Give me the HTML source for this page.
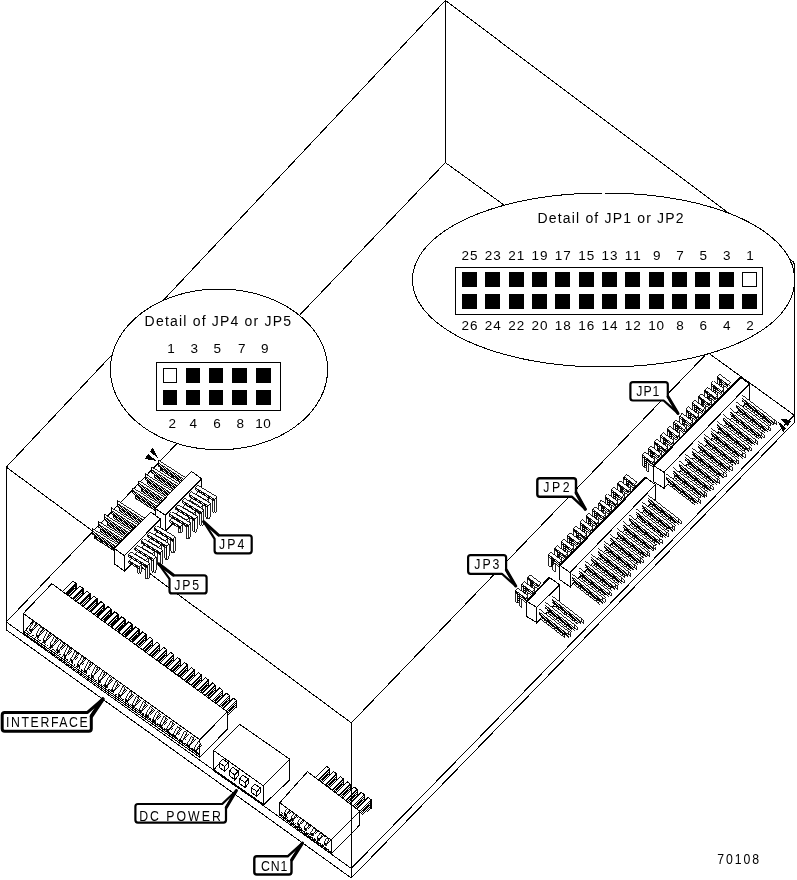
<!DOCTYPE html>
<html><head><meta charset="utf-8"><title>70108</title>
<style>
html,body{margin:0;padding:0;background:#fff;}
body{width:797px;height:880px;overflow:hidden;}
svg{display:block;will-change:transform;}
text{font-family:"Liberation Sans",sans-serif;fill:#000;}
</style></head><body>
<svg width="797" height="880" viewBox="0 0 797 880" shape-rendering="crispEdges">
<defs>
<pattern id="d" patternUnits="userSpaceOnUse" width="2" height="2"><rect x="0" y="0" width="1" height="1" fill="#000"/><rect x="1" y="1" width="1" height="1" fill="#000"/></pattern>
<pattern id="d4" patternUnits="userSpaceOnUse" width="2" height="2"><rect x="0" y="0" width="1" height="1" fill="#000"/></pattern>
</defs>
<rect width="797" height="880" fill="#fff"/>
<line x1="445.4" y1="0.5" x2="6.3" y2="467.1" stroke="#000" stroke-width="1" />
<line x1="445.4" y1="0.5" x2="794.3" y2="262.5" stroke="#000" stroke-width="1" />
<line x1="6.3" y1="467.1" x2="351.3" y2="722.9" stroke="#000" stroke-width="1" />
<line x1="794.3" y1="262.5" x2="351.3" y2="722.9" stroke="#000" stroke-width="1" />
<line x1="445.4" y1="0.5" x2="445.4" y2="162.6" stroke="#000" stroke-width="1" />
<line x1="6.3" y1="467.1" x2="6.3" y2="629.8" stroke="#000" stroke-width="1" />
<line x1="351.3" y1="722.9" x2="351.3" y2="878" stroke="#000" stroke-width="1" />
<line x1="794.3" y1="262.5" x2="794.3" y2="422.5" stroke="#000" stroke-width="1" />
<line x1="445.4" y1="162.6" x2="6.3" y2="622" stroke="#000" stroke-width="1" />
<line x1="445.4" y1="162.6" x2="794.3" y2="415.2" stroke="#000" stroke-width="1" />
<line x1="6.3" y1="622" x2="351.3" y2="868.4" stroke="#000" stroke-width="1" />
<line x1="794.3" y1="415.2" x2="351.3" y2="868.4" stroke="#000" stroke-width="1" />
<line x1="6.3" y1="629.8" x2="351.3" y2="878" stroke="#000" stroke-width="1" />
<line x1="794.3" y1="422.5" x2="351.3" y2="878" stroke="#000" stroke-width="1" />
<polygon points="721.46,383.82 723.86,385.62 723.86,393.62 722.66,393.32 721.46,391.82" fill="#fff" stroke="#000" stroke-width="0.85" />
<polygon points="727.96,388.7 721.46,383.82 723.86,381.32 730.36,386.2" fill="#fff" stroke="#000" stroke-width="0.85" />
<polygon points="717.46,376.82 719.86,378.62 719.86,389.12 718.66,388.82 717.46,387.32" fill="#fff" stroke="#000" stroke-width="0.85" />
<polygon points="719.86,378.62 721.86,377.02 721.86,387.32 719.86,389.12" fill="url(#d)" stroke="#000" stroke-width="0.85" />
<polygon points="727.96,384.7 717.46,376.82 717.46,378.82 727.96,386.7" fill="url(#d)" stroke="#000" stroke-width="0.85" />
<polygon points="727.96,384.7 717.46,376.82 719.86,374.32 730.36,382.2" fill="#fff" stroke="#000" stroke-width="0.85" />
<polygon points="715.18,390.32 717.58,392.12 717.58,400.12 716.38,399.82 715.18,398.32" fill="#fff" stroke="#000" stroke-width="0.85" />
<polygon points="721.68,395.2 715.18,390.32 717.58,387.82 724.08,392.7" fill="#fff" stroke="#000" stroke-width="0.85" />
<polygon points="711.18,383.32 713.58,385.12 713.58,395.62 712.38,395.32 711.18,393.82" fill="#fff" stroke="#000" stroke-width="0.85" />
<polygon points="713.58,385.12 715.58,383.52 715.58,393.82 713.58,395.62" fill="url(#d)" stroke="#000" stroke-width="0.85" />
<polygon points="721.68,391.2 711.18,383.32 711.18,385.32 721.68,393.2" fill="url(#d)" stroke="#000" stroke-width="0.85" />
<polygon points="721.68,391.2 711.18,383.32 713.58,380.82 724.08,388.7" fill="#fff" stroke="#000" stroke-width="0.85" />
<polygon points="708.9,396.82 711.3,398.62 711.3,406.62 710.1,406.32 708.9,404.82" fill="#fff" stroke="#000" stroke-width="0.85" />
<polygon points="715.4,401.7 708.9,396.82 711.3,394.32 717.8,399.2" fill="#fff" stroke="#000" stroke-width="0.85" />
<polygon points="704.9,389.82 707.3,391.62 707.3,402.12 706.1,401.82 704.9,400.32" fill="#fff" stroke="#000" stroke-width="0.85" />
<polygon points="707.3,391.62 709.3,390.02 709.3,400.32 707.3,402.12" fill="url(#d)" stroke="#000" stroke-width="0.85" />
<polygon points="715.4,397.7 704.9,389.82 704.9,391.82 715.4,399.7" fill="url(#d)" stroke="#000" stroke-width="0.85" />
<polygon points="715.4,397.7 704.9,389.82 707.3,387.32 717.8,395.2" fill="#fff" stroke="#000" stroke-width="0.85" />
<polygon points="702.62,403.32 705.02,405.12 705.02,413.12 703.82,412.82 702.62,411.32" fill="#fff" stroke="#000" stroke-width="0.85" />
<polygon points="709.12,408.2 702.62,403.32 705.02,400.82 711.52,405.7" fill="#fff" stroke="#000" stroke-width="0.85" />
<polygon points="698.62,396.32 701.02,398.12 701.02,408.62 699.82,408.32 698.62,406.82" fill="#fff" stroke="#000" stroke-width="0.85" />
<polygon points="701.02,398.12 703.02,396.52 703.02,406.82 701.02,408.62" fill="url(#d)" stroke="#000" stroke-width="0.85" />
<polygon points="709.12,404.2 698.62,396.32 698.62,398.32 709.12,406.2" fill="url(#d)" stroke="#000" stroke-width="0.85" />
<polygon points="709.12,404.2 698.62,396.32 701.02,393.82 711.52,401.7" fill="#fff" stroke="#000" stroke-width="0.85" />
<polygon points="696.34,409.82 698.74,411.62 698.74,419.62 697.54,419.32 696.34,417.82" fill="#fff" stroke="#000" stroke-width="0.85" />
<polygon points="702.84,414.7 696.34,409.82 698.74,407.32 705.24,412.2" fill="#fff" stroke="#000" stroke-width="0.85" />
<polygon points="692.34,402.82 694.74,404.62 694.74,415.12 693.54,414.82 692.34,413.32" fill="#fff" stroke="#000" stroke-width="0.85" />
<polygon points="694.74,404.62 696.74,403.02 696.74,413.32 694.74,415.12" fill="url(#d)" stroke="#000" stroke-width="0.85" />
<polygon points="702.84,410.7 692.34,402.82 692.34,404.82 702.84,412.7" fill="url(#d)" stroke="#000" stroke-width="0.85" />
<polygon points="702.84,410.7 692.34,402.82 694.74,400.32 705.24,408.2" fill="#fff" stroke="#000" stroke-width="0.85" />
<polygon points="690.06,416.32 692.46,418.12 692.46,426.12 691.26,425.82 690.06,424.32" fill="#fff" stroke="#000" stroke-width="0.85" />
<polygon points="696.56,421.2 690.06,416.32 692.46,413.82 698.96,418.7" fill="#fff" stroke="#000" stroke-width="0.85" />
<polygon points="686.06,409.32 688.46,411.12 688.46,421.62 687.26,421.32 686.06,419.82" fill="#fff" stroke="#000" stroke-width="0.85" />
<polygon points="688.46,411.12 690.46,409.52 690.46,419.82 688.46,421.62" fill="url(#d)" stroke="#000" stroke-width="0.85" />
<polygon points="696.56,417.2 686.06,409.32 686.06,411.32 696.56,419.2" fill="url(#d)" stroke="#000" stroke-width="0.85" />
<polygon points="696.56,417.2 686.06,409.32 688.46,406.82 698.96,414.7" fill="#fff" stroke="#000" stroke-width="0.85" />
<polygon points="683.78,422.82 686.18,424.62 686.18,432.62 684.98,432.32 683.78,430.82" fill="#fff" stroke="#000" stroke-width="0.85" />
<polygon points="690.28,427.7 683.78,422.82 686.18,420.32 692.68,425.2" fill="#fff" stroke="#000" stroke-width="0.85" />
<polygon points="679.78,415.82 682.18,417.62 682.18,428.12 680.98,427.82 679.78,426.32" fill="#fff" stroke="#000" stroke-width="0.85" />
<polygon points="682.18,417.62 684.18,416.02 684.18,426.32 682.18,428.12" fill="url(#d)" stroke="#000" stroke-width="0.85" />
<polygon points="690.28,423.7 679.78,415.82 679.78,417.82 690.28,425.7" fill="url(#d)" stroke="#000" stroke-width="0.85" />
<polygon points="690.28,423.7 679.78,415.82 682.18,413.32 692.68,421.2" fill="#fff" stroke="#000" stroke-width="0.85" />
<polygon points="677.5,429.32 679.9,431.12 679.9,439.12 678.7,438.82 677.5,437.32" fill="#fff" stroke="#000" stroke-width="0.85" />
<polygon points="684,434.2 677.5,429.32 679.9,426.82 686.4,431.7" fill="#fff" stroke="#000" stroke-width="0.85" />
<polygon points="673.5,422.32 675.9,424.12 675.9,434.62 674.7,434.32 673.5,432.82" fill="#fff" stroke="#000" stroke-width="0.85" />
<polygon points="675.9,424.12 677.9,422.52 677.9,432.82 675.9,434.62" fill="url(#d)" stroke="#000" stroke-width="0.85" />
<polygon points="684,430.2 673.5,422.32 673.5,424.32 684,432.2" fill="url(#d)" stroke="#000" stroke-width="0.85" />
<polygon points="684,430.2 673.5,422.32 675.9,419.82 686.4,427.7" fill="#fff" stroke="#000" stroke-width="0.85" />
<polygon points="671.22,435.82 673.62,437.62 673.62,445.62 672.42,445.32 671.22,443.82" fill="#fff" stroke="#000" stroke-width="0.85" />
<polygon points="677.72,440.7 671.22,435.82 673.62,433.32 680.12,438.2" fill="#fff" stroke="#000" stroke-width="0.85" />
<polygon points="667.22,428.82 669.62,430.62 669.62,441.12 668.42,440.82 667.22,439.32" fill="#fff" stroke="#000" stroke-width="0.85" />
<polygon points="669.62,430.62 671.62,429.02 671.62,439.32 669.62,441.12" fill="url(#d)" stroke="#000" stroke-width="0.85" />
<polygon points="677.72,436.7 667.22,428.82 667.22,430.82 677.72,438.7" fill="url(#d)" stroke="#000" stroke-width="0.85" />
<polygon points="677.72,436.7 667.22,428.82 669.62,426.32 680.12,434.2" fill="#fff" stroke="#000" stroke-width="0.85" />
<polygon points="664.94,442.32 667.34,444.12 667.34,452.12 666.14,451.82 664.94,450.32" fill="#fff" stroke="#000" stroke-width="0.85" />
<polygon points="671.44,447.2 664.94,442.32 667.34,439.82 673.84,444.7" fill="#fff" stroke="#000" stroke-width="0.85" />
<polygon points="660.94,435.32 663.34,437.12 663.34,447.62 662.14,447.32 660.94,445.82" fill="#fff" stroke="#000" stroke-width="0.85" />
<polygon points="663.34,437.12 665.34,435.52 665.34,445.82 663.34,447.62" fill="url(#d)" stroke="#000" stroke-width="0.85" />
<polygon points="671.44,443.2 660.94,435.32 660.94,437.32 671.44,445.2" fill="url(#d)" stroke="#000" stroke-width="0.85" />
<polygon points="671.44,443.2 660.94,435.32 663.34,432.82 673.84,440.7" fill="#fff" stroke="#000" stroke-width="0.85" />
<polygon points="658.66,448.82 661.06,450.62 661.06,458.62 659.86,458.32 658.66,456.82" fill="#fff" stroke="#000" stroke-width="0.85" />
<polygon points="665.16,453.7 658.66,448.82 661.06,446.32 667.56,451.2" fill="#fff" stroke="#000" stroke-width="0.85" />
<polygon points="654.66,441.82 657.06,443.62 657.06,454.12 655.86,453.82 654.66,452.32" fill="#fff" stroke="#000" stroke-width="0.85" />
<polygon points="657.06,443.62 659.06,442.02 659.06,452.32 657.06,454.12" fill="url(#d)" stroke="#000" stroke-width="0.85" />
<polygon points="665.16,449.7 654.66,441.82 654.66,443.82 665.16,451.7" fill="url(#d)" stroke="#000" stroke-width="0.85" />
<polygon points="665.16,449.7 654.66,441.82 657.06,439.32 667.56,447.2" fill="#fff" stroke="#000" stroke-width="0.85" />
<polygon points="652.38,455.32 654.78,457.12 654.78,465.12 653.58,464.82 652.38,463.32" fill="#fff" stroke="#000" stroke-width="0.85" />
<polygon points="658.88,460.2 652.38,455.32 654.78,452.82 661.28,457.7" fill="#fff" stroke="#000" stroke-width="0.85" />
<polygon points="648.38,448.32 650.78,450.12 650.78,460.62 649.58,460.32 648.38,458.82" fill="#fff" stroke="#000" stroke-width="0.85" />
<polygon points="650.78,450.12 652.78,448.52 652.78,458.82 650.78,460.62" fill="url(#d)" stroke="#000" stroke-width="0.85" />
<polygon points="658.88,456.2 648.38,448.32 648.38,450.32 658.88,458.2" fill="url(#d)" stroke="#000" stroke-width="0.85" />
<polygon points="658.88,456.2 648.38,448.32 650.78,445.82 661.28,453.7" fill="#fff" stroke="#000" stroke-width="0.85" />
<polygon points="646.1,461.82 648.5,463.62 648.5,471.62 647.3,471.32 646.1,469.82" fill="#fff" stroke="#000" stroke-width="0.85" />
<polygon points="652.6,466.7 646.1,461.82 648.5,459.32 655,464.2" fill="#fff" stroke="#000" stroke-width="0.85" />
<polygon points="642.1,454.82 644.5,456.62 644.5,467.12 643.3,466.82 642.1,465.32" fill="#fff" stroke="#000" stroke-width="0.85" />
<polygon points="644.5,456.62 646.5,455.02 646.5,465.32 644.5,467.12" fill="url(#d)" stroke="#000" stroke-width="0.85" />
<polygon points="652.6,462.7 642.1,454.82 642.1,456.82 652.6,464.7" fill="url(#d)" stroke="#000" stroke-width="0.85" />
<polygon points="652.6,462.7 642.1,454.82 644.5,452.32 655,460.2" fill="#fff" stroke="#000" stroke-width="0.85" />
<polygon points="653.4,465.5 664,472.3 664,488.3 653.4,481.5" fill="#fff" stroke="#000" stroke-width="1" />
<polygon points="664,472.3 749.3,384 749.3,400 664,488.3" fill="#fff" stroke="#000" stroke-width="1" />
<polygon points="740.5,377.1 749.3,384 664,472.3 653.4,465.5" fill="#fff" stroke="#000" stroke-width="1" />
<line x1="653.4" y1="465.5" x2="740.5" y2="377.1" stroke="#000" stroke-width="2" />
<polygon points="742.4,395.2 774.4,419.84 774.4,425.64 742.4,401" fill="#fff" stroke="none" stroke-width="1" />
<polygon points="742.4,398.4 774.4,423.04 774.4,425.64 742.4,401" fill="url(#d)" stroke="none" stroke-width="1" />
<line x1="742.4" y1="395.2" x2="774.4" y2="419.84" stroke="#000" stroke-width="0.85" />
<line x1="742.4" y1="398.4" x2="774.4" y2="423.04" stroke="#000" stroke-width="0.85" />
<line x1="742.4" y1="401" x2="774.4" y2="425.64" stroke="#000" stroke-width="0.85" />
<polygon points="774.4,419.84 776.8,421.64 776.8,424.84 774.4,423.04" fill="#fff" stroke="#000" stroke-width="0.85" />
<line x1="744.2" y1="402.6" x2="771.2" y2="423.39" stroke="#000" stroke-width="1.6" />
<polygon points="744.2,403.2 771.2,423.99 771.2,426.39 744.2,405.6" fill="#fff" stroke="none" stroke-width="1" />
<polygon points="744.2,403.2 771.2,423.99 771.2,426.39 744.2,405.6" fill="url(#d4)" stroke="none" stroke-width="1" />
<line x1="744.2" y1="403.2" x2="771.2" y2="423.99" stroke="#000" stroke-width="0.85" />
<line x1="744.2" y1="405.6" x2="771.2" y2="426.39" stroke="#000" stroke-width="0.85" />
<polygon points="736.05,401.75 768.05,426.39 768.05,432.19 736.05,407.55" fill="#fff" stroke="none" stroke-width="1" />
<polygon points="736.05,404.95 768.05,429.59 768.05,432.19 736.05,407.55" fill="url(#d)" stroke="none" stroke-width="1" />
<line x1="736.05" y1="401.75" x2="768.05" y2="426.39" stroke="#000" stroke-width="0.85" />
<line x1="736.05" y1="404.95" x2="768.05" y2="429.59" stroke="#000" stroke-width="0.85" />
<line x1="736.05" y1="407.55" x2="768.05" y2="432.19" stroke="#000" stroke-width="0.85" />
<polygon points="768.05,426.39 770.45,428.19 770.45,431.39 768.05,429.59" fill="#fff" stroke="#000" stroke-width="0.85" />
<line x1="737.85" y1="409.15" x2="764.85" y2="429.94" stroke="#000" stroke-width="1.6" />
<polygon points="737.85,409.75 764.85,430.54 764.85,432.94 737.85,412.15" fill="#fff" stroke="none" stroke-width="1" />
<polygon points="737.85,409.75 764.85,430.54 764.85,432.94 737.85,412.15" fill="url(#d4)" stroke="none" stroke-width="1" />
<line x1="737.85" y1="409.75" x2="764.85" y2="430.54" stroke="#000" stroke-width="0.85" />
<line x1="737.85" y1="412.15" x2="764.85" y2="432.94" stroke="#000" stroke-width="0.85" />
<polygon points="729.7,408.3 761.7,432.94 761.7,438.74 729.7,414.1" fill="#fff" stroke="none" stroke-width="1" />
<polygon points="729.7,411.5 761.7,436.14 761.7,438.74 729.7,414.1" fill="url(#d)" stroke="none" stroke-width="1" />
<line x1="729.7" y1="408.3" x2="761.7" y2="432.94" stroke="#000" stroke-width="0.85" />
<line x1="729.7" y1="411.5" x2="761.7" y2="436.14" stroke="#000" stroke-width="0.85" />
<line x1="729.7" y1="414.1" x2="761.7" y2="438.74" stroke="#000" stroke-width="0.85" />
<polygon points="761.7,432.94 764.1,434.74 764.1,437.94 761.7,436.14" fill="#fff" stroke="#000" stroke-width="0.85" />
<line x1="731.5" y1="415.7" x2="758.5" y2="436.49" stroke="#000" stroke-width="1.6" />
<polygon points="731.5,416.3 758.5,437.09 758.5,439.49 731.5,418.7" fill="#fff" stroke="none" stroke-width="1" />
<polygon points="731.5,416.3 758.5,437.09 758.5,439.49 731.5,418.7" fill="url(#d4)" stroke="none" stroke-width="1" />
<line x1="731.5" y1="416.3" x2="758.5" y2="437.09" stroke="#000" stroke-width="0.85" />
<line x1="731.5" y1="418.7" x2="758.5" y2="439.49" stroke="#000" stroke-width="0.85" />
<polygon points="723.35,414.85 755.35,439.49 755.35,445.29 723.35,420.65" fill="#fff" stroke="none" stroke-width="1" />
<polygon points="723.35,418.05 755.35,442.69 755.35,445.29 723.35,420.65" fill="url(#d)" stroke="none" stroke-width="1" />
<line x1="723.35" y1="414.85" x2="755.35" y2="439.49" stroke="#000" stroke-width="0.85" />
<line x1="723.35" y1="418.05" x2="755.35" y2="442.69" stroke="#000" stroke-width="0.85" />
<line x1="723.35" y1="420.65" x2="755.35" y2="445.29" stroke="#000" stroke-width="0.85" />
<polygon points="755.35,439.49 757.75,441.29 757.75,444.49 755.35,442.69" fill="#fff" stroke="#000" stroke-width="0.85" />
<line x1="725.15" y1="422.25" x2="752.15" y2="443.04" stroke="#000" stroke-width="1.6" />
<polygon points="725.15,422.85 752.15,443.64 752.15,446.04 725.15,425.25" fill="#fff" stroke="none" stroke-width="1" />
<polygon points="725.15,422.85 752.15,443.64 752.15,446.04 725.15,425.25" fill="url(#d4)" stroke="none" stroke-width="1" />
<line x1="725.15" y1="422.85" x2="752.15" y2="443.64" stroke="#000" stroke-width="0.85" />
<line x1="725.15" y1="425.25" x2="752.15" y2="446.04" stroke="#000" stroke-width="0.85" />
<polygon points="717,421.4 749,446.04 749,451.84 717,427.2" fill="#fff" stroke="none" stroke-width="1" />
<polygon points="717,424.6 749,449.24 749,451.84 717,427.2" fill="url(#d)" stroke="none" stroke-width="1" />
<line x1="717" y1="421.4" x2="749" y2="446.04" stroke="#000" stroke-width="0.85" />
<line x1="717" y1="424.6" x2="749" y2="449.24" stroke="#000" stroke-width="0.85" />
<line x1="717" y1="427.2" x2="749" y2="451.84" stroke="#000" stroke-width="0.85" />
<polygon points="749,446.04 751.4,447.84 751.4,451.04 749,449.24" fill="#fff" stroke="#000" stroke-width="0.85" />
<line x1="718.8" y1="428.8" x2="745.8" y2="449.59" stroke="#000" stroke-width="1.6" />
<polygon points="718.8,429.4 745.8,450.19 745.8,452.59 718.8,431.8" fill="#fff" stroke="none" stroke-width="1" />
<polygon points="718.8,429.4 745.8,450.19 745.8,452.59 718.8,431.8" fill="url(#d4)" stroke="none" stroke-width="1" />
<line x1="718.8" y1="429.4" x2="745.8" y2="450.19" stroke="#000" stroke-width="0.85" />
<line x1="718.8" y1="431.8" x2="745.8" y2="452.59" stroke="#000" stroke-width="0.85" />
<polygon points="710.65,427.95 742.65,452.59 742.65,458.39 710.65,433.75" fill="#fff" stroke="none" stroke-width="1" />
<polygon points="710.65,431.15 742.65,455.79 742.65,458.39 710.65,433.75" fill="url(#d)" stroke="none" stroke-width="1" />
<line x1="710.65" y1="427.95" x2="742.65" y2="452.59" stroke="#000" stroke-width="0.85" />
<line x1="710.65" y1="431.15" x2="742.65" y2="455.79" stroke="#000" stroke-width="0.85" />
<line x1="710.65" y1="433.75" x2="742.65" y2="458.39" stroke="#000" stroke-width="0.85" />
<polygon points="742.65,452.59 745.05,454.39 745.05,457.59 742.65,455.79" fill="#fff" stroke="#000" stroke-width="0.85" />
<line x1="712.45" y1="435.35" x2="739.45" y2="456.14" stroke="#000" stroke-width="1.6" />
<polygon points="712.45,435.95 739.45,456.74 739.45,459.14 712.45,438.35" fill="#fff" stroke="none" stroke-width="1" />
<polygon points="712.45,435.95 739.45,456.74 739.45,459.14 712.45,438.35" fill="url(#d4)" stroke="none" stroke-width="1" />
<line x1="712.45" y1="435.95" x2="739.45" y2="456.74" stroke="#000" stroke-width="0.85" />
<line x1="712.45" y1="438.35" x2="739.45" y2="459.14" stroke="#000" stroke-width="0.85" />
<polygon points="704.3,434.5 736.3,459.14 736.3,464.94 704.3,440.3" fill="#fff" stroke="none" stroke-width="1" />
<polygon points="704.3,437.7 736.3,462.34 736.3,464.94 704.3,440.3" fill="url(#d)" stroke="none" stroke-width="1" />
<line x1="704.3" y1="434.5" x2="736.3" y2="459.14" stroke="#000" stroke-width="0.85" />
<line x1="704.3" y1="437.7" x2="736.3" y2="462.34" stroke="#000" stroke-width="0.85" />
<line x1="704.3" y1="440.3" x2="736.3" y2="464.94" stroke="#000" stroke-width="0.85" />
<polygon points="736.3,459.14 738.7,460.94 738.7,464.14 736.3,462.34" fill="#fff" stroke="#000" stroke-width="0.85" />
<line x1="706.1" y1="441.9" x2="733.1" y2="462.69" stroke="#000" stroke-width="1.6" />
<polygon points="706.1,442.5 733.1,463.29 733.1,465.69 706.1,444.9" fill="#fff" stroke="none" stroke-width="1" />
<polygon points="706.1,442.5 733.1,463.29 733.1,465.69 706.1,444.9" fill="url(#d4)" stroke="none" stroke-width="1" />
<line x1="706.1" y1="442.5" x2="733.1" y2="463.29" stroke="#000" stroke-width="0.85" />
<line x1="706.1" y1="444.9" x2="733.1" y2="465.69" stroke="#000" stroke-width="0.85" />
<polygon points="697.95,441.05 729.95,465.69 729.95,471.49 697.95,446.85" fill="#fff" stroke="none" stroke-width="1" />
<polygon points="697.95,444.25 729.95,468.89 729.95,471.49 697.95,446.85" fill="url(#d)" stroke="none" stroke-width="1" />
<line x1="697.95" y1="441.05" x2="729.95" y2="465.69" stroke="#000" stroke-width="0.85" />
<line x1="697.95" y1="444.25" x2="729.95" y2="468.89" stroke="#000" stroke-width="0.85" />
<line x1="697.95" y1="446.85" x2="729.95" y2="471.49" stroke="#000" stroke-width="0.85" />
<polygon points="729.95,465.69 732.35,467.49 732.35,470.69 729.95,468.89" fill="#fff" stroke="#000" stroke-width="0.85" />
<line x1="699.75" y1="448.45" x2="726.75" y2="469.24" stroke="#000" stroke-width="1.6" />
<polygon points="699.75,449.05 726.75,469.84 726.75,472.24 699.75,451.45" fill="#fff" stroke="none" stroke-width="1" />
<polygon points="699.75,449.05 726.75,469.84 726.75,472.24 699.75,451.45" fill="url(#d4)" stroke="none" stroke-width="1" />
<line x1="699.75" y1="449.05" x2="726.75" y2="469.84" stroke="#000" stroke-width="0.85" />
<line x1="699.75" y1="451.45" x2="726.75" y2="472.24" stroke="#000" stroke-width="0.85" />
<polygon points="691.6,447.6 723.6,472.24 723.6,478.04 691.6,453.4" fill="#fff" stroke="none" stroke-width="1" />
<polygon points="691.6,450.8 723.6,475.44 723.6,478.04 691.6,453.4" fill="url(#d)" stroke="none" stroke-width="1" />
<line x1="691.6" y1="447.6" x2="723.6" y2="472.24" stroke="#000" stroke-width="0.85" />
<line x1="691.6" y1="450.8" x2="723.6" y2="475.44" stroke="#000" stroke-width="0.85" />
<line x1="691.6" y1="453.4" x2="723.6" y2="478.04" stroke="#000" stroke-width="0.85" />
<polygon points="723.6,472.24 726,474.04 726,477.24 723.6,475.44" fill="#fff" stroke="#000" stroke-width="0.85" />
<line x1="693.4" y1="455" x2="720.4" y2="475.79" stroke="#000" stroke-width="1.6" />
<polygon points="693.4,455.6 720.4,476.39 720.4,478.79 693.4,458" fill="#fff" stroke="none" stroke-width="1" />
<polygon points="693.4,455.6 720.4,476.39 720.4,478.79 693.4,458" fill="url(#d4)" stroke="none" stroke-width="1" />
<line x1="693.4" y1="455.6" x2="720.4" y2="476.39" stroke="#000" stroke-width="0.85" />
<line x1="693.4" y1="458" x2="720.4" y2="478.79" stroke="#000" stroke-width="0.85" />
<polygon points="685.25,454.15 717.25,478.79 717.25,484.59 685.25,459.95" fill="#fff" stroke="none" stroke-width="1" />
<polygon points="685.25,457.35 717.25,481.99 717.25,484.59 685.25,459.95" fill="url(#d)" stroke="none" stroke-width="1" />
<line x1="685.25" y1="454.15" x2="717.25" y2="478.79" stroke="#000" stroke-width="0.85" />
<line x1="685.25" y1="457.35" x2="717.25" y2="481.99" stroke="#000" stroke-width="0.85" />
<line x1="685.25" y1="459.95" x2="717.25" y2="484.59" stroke="#000" stroke-width="0.85" />
<polygon points="717.25,478.79 719.65,480.59 719.65,483.79 717.25,481.99" fill="#fff" stroke="#000" stroke-width="0.85" />
<line x1="687.05" y1="461.55" x2="714.05" y2="482.34" stroke="#000" stroke-width="1.6" />
<polygon points="687.05,462.15 714.05,482.94 714.05,485.34 687.05,464.55" fill="#fff" stroke="none" stroke-width="1" />
<polygon points="687.05,462.15 714.05,482.94 714.05,485.34 687.05,464.55" fill="url(#d4)" stroke="none" stroke-width="1" />
<line x1="687.05" y1="462.15" x2="714.05" y2="482.94" stroke="#000" stroke-width="0.85" />
<line x1="687.05" y1="464.55" x2="714.05" y2="485.34" stroke="#000" stroke-width="0.85" />
<polygon points="678.9,460.7 710.9,485.34 710.9,491.14 678.9,466.5" fill="#fff" stroke="none" stroke-width="1" />
<polygon points="678.9,463.9 710.9,488.54 710.9,491.14 678.9,466.5" fill="url(#d)" stroke="none" stroke-width="1" />
<line x1="678.9" y1="460.7" x2="710.9" y2="485.34" stroke="#000" stroke-width="0.85" />
<line x1="678.9" y1="463.9" x2="710.9" y2="488.54" stroke="#000" stroke-width="0.85" />
<line x1="678.9" y1="466.5" x2="710.9" y2="491.14" stroke="#000" stroke-width="0.85" />
<polygon points="710.9,485.34 713.3,487.14 713.3,490.34 710.9,488.54" fill="#fff" stroke="#000" stroke-width="0.85" />
<line x1="680.7" y1="468.1" x2="707.7" y2="488.89" stroke="#000" stroke-width="1.6" />
<polygon points="680.7,468.7 707.7,489.49 707.7,491.89 680.7,471.1" fill="#fff" stroke="none" stroke-width="1" />
<polygon points="680.7,468.7 707.7,489.49 707.7,491.89 680.7,471.1" fill="url(#d4)" stroke="none" stroke-width="1" />
<line x1="680.7" y1="468.7" x2="707.7" y2="489.49" stroke="#000" stroke-width="0.85" />
<line x1="680.7" y1="471.1" x2="707.7" y2="491.89" stroke="#000" stroke-width="0.85" />
<polygon points="672.55,467.25 704.55,491.89 704.55,497.69 672.55,473.05" fill="#fff" stroke="none" stroke-width="1" />
<polygon points="672.55,470.45 704.55,495.09 704.55,497.69 672.55,473.05" fill="url(#d)" stroke="none" stroke-width="1" />
<line x1="672.55" y1="467.25" x2="704.55" y2="491.89" stroke="#000" stroke-width="0.85" />
<line x1="672.55" y1="470.45" x2="704.55" y2="495.09" stroke="#000" stroke-width="0.85" />
<line x1="672.55" y1="473.05" x2="704.55" y2="497.69" stroke="#000" stroke-width="0.85" />
<polygon points="704.55,491.89 706.95,493.69 706.95,496.89 704.55,495.09" fill="#fff" stroke="#000" stroke-width="0.85" />
<line x1="674.35" y1="474.65" x2="701.35" y2="495.44" stroke="#000" stroke-width="1.6" />
<polygon points="674.35,475.25 701.35,496.04 701.35,498.44 674.35,477.65" fill="#fff" stroke="none" stroke-width="1" />
<polygon points="674.35,475.25 701.35,496.04 701.35,498.44 674.35,477.65" fill="url(#d4)" stroke="none" stroke-width="1" />
<line x1="674.35" y1="475.25" x2="701.35" y2="496.04" stroke="#000" stroke-width="0.85" />
<line x1="674.35" y1="477.65" x2="701.35" y2="498.44" stroke="#000" stroke-width="0.85" />
<polygon points="666.2,473.8 698.2,498.44 698.2,504.24 666.2,479.6" fill="#fff" stroke="none" stroke-width="1" />
<polygon points="666.2,477 698.2,501.64 698.2,504.24 666.2,479.6" fill="url(#d)" stroke="none" stroke-width="1" />
<line x1="666.2" y1="473.8" x2="698.2" y2="498.44" stroke="#000" stroke-width="0.85" />
<line x1="666.2" y1="477" x2="698.2" y2="501.64" stroke="#000" stroke-width="0.85" />
<line x1="666.2" y1="479.6" x2="698.2" y2="504.24" stroke="#000" stroke-width="0.85" />
<polygon points="698.2,498.44 700.6,500.24 700.6,503.44 698.2,501.64" fill="#fff" stroke="#000" stroke-width="0.85" />
<line x1="668" y1="481.2" x2="695" y2="501.99" stroke="#000" stroke-width="1.6" />
<polygon points="668,481.8 695,502.59 695,504.99 668,484.2" fill="#fff" stroke="none" stroke-width="1" />
<polygon points="668,481.8 695,502.59 695,504.99 668,484.2" fill="url(#d4)" stroke="none" stroke-width="1" />
<line x1="668" y1="481.8" x2="695" y2="502.59" stroke="#000" stroke-width="0.85" />
<line x1="668" y1="484.2" x2="695" y2="504.99" stroke="#000" stroke-width="0.85" />
<polygon points="627.96,483.73 630.36,485.53 630.36,493.53 629.16,493.23 627.96,491.73" fill="#fff" stroke="#000" stroke-width="0.85" />
<polygon points="634.46,488.6 627.96,483.73 630.36,481.23 636.86,486.1" fill="#fff" stroke="#000" stroke-width="0.85" />
<polygon points="623.96,476.73 626.36,478.53 626.36,489.03 625.16,488.73 623.96,487.23" fill="#fff" stroke="#000" stroke-width="0.85" />
<polygon points="626.36,478.53 628.36,476.93 628.36,487.23 626.36,489.03" fill="url(#d)" stroke="#000" stroke-width="0.85" />
<polygon points="634.46,484.6 623.96,476.73 623.96,478.73 634.46,486.6" fill="url(#d)" stroke="#000" stroke-width="0.85" />
<polygon points="634.46,484.6 623.96,476.73 626.36,474.23 636.86,482.1" fill="#fff" stroke="#000" stroke-width="0.85" />
<polygon points="621.68,490.23 624.08,492.03 624.08,500.03 622.88,499.73 621.68,498.23" fill="#fff" stroke="#000" stroke-width="0.85" />
<polygon points="628.18,495.1 621.68,490.23 624.08,487.73 630.58,492.6" fill="#fff" stroke="#000" stroke-width="0.85" />
<polygon points="617.68,483.23 620.08,485.03 620.08,495.53 618.88,495.23 617.68,493.73" fill="#fff" stroke="#000" stroke-width="0.85" />
<polygon points="620.08,485.03 622.08,483.43 622.08,493.73 620.08,495.53" fill="url(#d)" stroke="#000" stroke-width="0.85" />
<polygon points="628.18,491.1 617.68,483.23 617.68,485.23 628.18,493.1" fill="url(#d)" stroke="#000" stroke-width="0.85" />
<polygon points="628.18,491.1 617.68,483.23 620.08,480.73 630.58,488.6" fill="#fff" stroke="#000" stroke-width="0.85" />
<polygon points="615.4,496.73 617.8,498.53 617.8,506.53 616.6,506.23 615.4,504.73" fill="#fff" stroke="#000" stroke-width="0.85" />
<polygon points="621.9,501.6 615.4,496.73 617.8,494.23 624.3,499.1" fill="#fff" stroke="#000" stroke-width="0.85" />
<polygon points="611.4,489.73 613.8,491.53 613.8,502.03 612.6,501.73 611.4,500.23" fill="#fff" stroke="#000" stroke-width="0.85" />
<polygon points="613.8,491.53 615.8,489.93 615.8,500.23 613.8,502.03" fill="url(#d)" stroke="#000" stroke-width="0.85" />
<polygon points="621.9,497.6 611.4,489.73 611.4,491.73 621.9,499.6" fill="url(#d)" stroke="#000" stroke-width="0.85" />
<polygon points="621.9,497.6 611.4,489.73 613.8,487.23 624.3,495.1" fill="#fff" stroke="#000" stroke-width="0.85" />
<polygon points="609.12,503.23 611.52,505.03 611.52,513.02 610.32,512.73 609.12,511.23" fill="#fff" stroke="#000" stroke-width="0.85" />
<polygon points="615.62,508.1 609.12,503.23 611.52,500.73 618.02,505.6" fill="#fff" stroke="#000" stroke-width="0.85" />
<polygon points="605.12,496.23 607.52,498.03 607.52,508.53 606.32,508.23 605.12,506.73" fill="#fff" stroke="#000" stroke-width="0.85" />
<polygon points="607.52,498.03 609.52,496.43 609.52,506.73 607.52,508.53" fill="url(#d)" stroke="#000" stroke-width="0.85" />
<polygon points="615.62,504.1 605.12,496.23 605.12,498.23 615.62,506.1" fill="url(#d)" stroke="#000" stroke-width="0.85" />
<polygon points="615.62,504.1 605.12,496.23 607.52,493.73 618.02,501.6" fill="#fff" stroke="#000" stroke-width="0.85" />
<polygon points="602.84,509.73 605.24,511.53 605.24,519.52 604.04,519.23 602.84,517.73" fill="#fff" stroke="#000" stroke-width="0.85" />
<polygon points="609.34,514.6 602.84,509.73 605.24,507.23 611.74,512.1" fill="#fff" stroke="#000" stroke-width="0.85" />
<polygon points="598.84,502.73 601.24,504.53 601.24,515.02 600.04,514.73 598.84,513.23" fill="#fff" stroke="#000" stroke-width="0.85" />
<polygon points="601.24,504.53 603.24,502.93 603.24,513.23 601.24,515.02" fill="url(#d)" stroke="#000" stroke-width="0.85" />
<polygon points="609.34,510.6 598.84,502.73 598.84,504.73 609.34,512.6" fill="url(#d)" stroke="#000" stroke-width="0.85" />
<polygon points="609.34,510.6 598.84,502.73 601.24,500.23 611.74,508.1" fill="#fff" stroke="#000" stroke-width="0.85" />
<polygon points="596.56,516.23 598.96,518.02 598.96,526.02 597.76,525.73 596.56,524.23" fill="#fff" stroke="#000" stroke-width="0.85" />
<polygon points="603.06,521.1 596.56,516.23 598.96,513.73 605.46,518.6" fill="#fff" stroke="#000" stroke-width="0.85" />
<polygon points="592.56,509.23 594.96,511.03 594.96,521.52 593.76,521.23 592.56,519.73" fill="#fff" stroke="#000" stroke-width="0.85" />
<polygon points="594.96,511.03 596.96,509.43 596.96,519.73 594.96,521.52" fill="url(#d)" stroke="#000" stroke-width="0.85" />
<polygon points="603.06,517.1 592.56,509.23 592.56,511.23 603.06,519.1" fill="url(#d)" stroke="#000" stroke-width="0.85" />
<polygon points="603.06,517.1 592.56,509.23 594.96,506.73 605.46,514.6" fill="#fff" stroke="#000" stroke-width="0.85" />
<polygon points="590.28,522.73 592.68,524.52 592.68,532.52 591.48,532.23 590.28,530.73" fill="#fff" stroke="#000" stroke-width="0.85" />
<polygon points="596.78,527.6 590.28,522.73 592.68,520.23 599.18,525.1" fill="#fff" stroke="#000" stroke-width="0.85" />
<polygon points="586.28,515.73 588.68,517.52 588.68,528.02 587.48,527.73 586.28,526.23" fill="#fff" stroke="#000" stroke-width="0.85" />
<polygon points="588.68,517.52 590.68,515.93 590.68,526.23 588.68,528.02" fill="url(#d)" stroke="#000" stroke-width="0.85" />
<polygon points="596.78,523.6 586.28,515.73 586.28,517.73 596.78,525.6" fill="url(#d)" stroke="#000" stroke-width="0.85" />
<polygon points="596.78,523.6 586.28,515.73 588.68,513.23 599.18,521.1" fill="#fff" stroke="#000" stroke-width="0.85" />
<polygon points="584,529.23 586.4,531.02 586.4,539.02 585.2,538.73 584,537.23" fill="#fff" stroke="#000" stroke-width="0.85" />
<polygon points="590.5,534.1 584,529.23 586.4,526.73 592.9,531.6" fill="#fff" stroke="#000" stroke-width="0.85" />
<polygon points="580,522.23 582.4,524.02 582.4,534.52 581.2,534.23 580,532.73" fill="#fff" stroke="#000" stroke-width="0.85" />
<polygon points="582.4,524.02 584.4,522.43 584.4,532.73 582.4,534.52" fill="url(#d)" stroke="#000" stroke-width="0.85" />
<polygon points="590.5,530.1 580,522.23 580,524.23 590.5,532.1" fill="url(#d)" stroke="#000" stroke-width="0.85" />
<polygon points="590.5,530.1 580,522.23 582.4,519.73 592.9,527.6" fill="#fff" stroke="#000" stroke-width="0.85" />
<polygon points="577.72,535.73 580.12,537.52 580.12,545.52 578.92,545.23 577.72,543.73" fill="#fff" stroke="#000" stroke-width="0.85" />
<polygon points="584.22,540.6 577.72,535.73 580.12,533.23 586.62,538.1" fill="#fff" stroke="#000" stroke-width="0.85" />
<polygon points="573.72,528.73 576.12,530.52 576.12,541.02 574.92,540.73 573.72,539.23" fill="#fff" stroke="#000" stroke-width="0.85" />
<polygon points="576.12,530.52 578.12,528.93 578.12,539.23 576.12,541.02" fill="url(#d)" stroke="#000" stroke-width="0.85" />
<polygon points="584.22,536.6 573.72,528.73 573.72,530.73 584.22,538.6" fill="url(#d)" stroke="#000" stroke-width="0.85" />
<polygon points="584.22,536.6 573.72,528.73 576.12,526.23 586.62,534.1" fill="#fff" stroke="#000" stroke-width="0.85" />
<polygon points="571.44,542.23 573.84,544.02 573.84,552.02 572.64,551.73 571.44,550.23" fill="#fff" stroke="#000" stroke-width="0.85" />
<polygon points="577.94,547.1 571.44,542.23 573.84,539.73 580.34,544.6" fill="#fff" stroke="#000" stroke-width="0.85" />
<polygon points="567.44,535.23 569.84,537.02 569.84,547.52 568.64,547.23 567.44,545.73" fill="#fff" stroke="#000" stroke-width="0.85" />
<polygon points="569.84,537.02 571.84,535.43 571.84,545.73 569.84,547.52" fill="url(#d)" stroke="#000" stroke-width="0.85" />
<polygon points="577.94,543.1 567.44,535.23 567.44,537.23 577.94,545.1" fill="url(#d)" stroke="#000" stroke-width="0.85" />
<polygon points="577.94,543.1 567.44,535.23 569.84,532.73 580.34,540.6" fill="#fff" stroke="#000" stroke-width="0.85" />
<polygon points="565.16,548.73 567.56,550.52 567.56,558.52 566.36,558.23 565.16,556.73" fill="#fff" stroke="#000" stroke-width="0.85" />
<polygon points="571.66,553.6 565.16,548.73 567.56,546.23 574.06,551.1" fill="#fff" stroke="#000" stroke-width="0.85" />
<polygon points="561.16,541.73 563.56,543.52 563.56,554.02 562.36,553.73 561.16,552.23" fill="#fff" stroke="#000" stroke-width="0.85" />
<polygon points="563.56,543.52 565.56,541.93 565.56,552.23 563.56,554.02" fill="url(#d)" stroke="#000" stroke-width="0.85" />
<polygon points="571.66,549.6 561.16,541.73 561.16,543.73 571.66,551.6" fill="url(#d)" stroke="#000" stroke-width="0.85" />
<polygon points="571.66,549.6 561.16,541.73 563.56,539.23 574.06,547.1" fill="#fff" stroke="#000" stroke-width="0.85" />
<polygon points="558.88,555.23 561.28,557.02 561.28,565.02 560.08,564.73 558.88,563.23" fill="#fff" stroke="#000" stroke-width="0.85" />
<polygon points="565.38,560.1 558.88,555.23 561.28,552.73 567.78,557.6" fill="#fff" stroke="#000" stroke-width="0.85" />
<polygon points="554.88,548.23 557.28,550.02 557.28,560.52 556.08,560.23 554.88,558.73" fill="#fff" stroke="#000" stroke-width="0.85" />
<polygon points="557.28,550.02 559.28,548.43 559.28,558.73 557.28,560.52" fill="url(#d)" stroke="#000" stroke-width="0.85" />
<polygon points="565.38,556.1 554.88,548.23 554.88,550.23 565.38,558.1" fill="url(#d)" stroke="#000" stroke-width="0.85" />
<polygon points="565.38,556.1 554.88,548.23 557.28,545.73 567.78,553.6" fill="#fff" stroke="#000" stroke-width="0.85" />
<polygon points="552.6,561.73 555,563.52 555,571.52 553.8,571.23 552.6,569.73" fill="#fff" stroke="#000" stroke-width="0.85" />
<polygon points="559.1,566.6 552.6,561.73 555,559.23 561.5,564.1" fill="#fff" stroke="#000" stroke-width="0.85" />
<polygon points="548.6,554.73 551,556.52 551,567.02 549.8,566.73 548.6,565.23" fill="#fff" stroke="#000" stroke-width="0.85" />
<polygon points="551,556.52 553,554.93 553,565.23 551,567.02" fill="url(#d)" stroke="#000" stroke-width="0.85" />
<polygon points="559.1,562.6 548.6,554.73 548.6,556.73 559.1,564.6" fill="url(#d)" stroke="#000" stroke-width="0.85" />
<polygon points="559.1,562.6 548.6,554.73 551,552.23 561.5,560.1" fill="#fff" stroke="#000" stroke-width="0.85" />
<polygon points="559.9,565.4 570,572.5 570,586.8 559.9,579.7" fill="#fff" stroke="#000" stroke-width="1" />
<polygon points="570,572.5 655.5,484.6 655.5,498.9 570,586.8" fill="#fff" stroke="#000" stroke-width="1" />
<polygon points="645.7,477.4 655.5,484.6 570,572.5 559.9,565.4" fill="#fff" stroke="#000" stroke-width="1" />
<line x1="559.9" y1="565.4" x2="645.7" y2="477.4" stroke="#000" stroke-width="2" />
<polygon points="648.4,495.4 678.9,518.88 678.9,524.68 648.4,501.2" fill="#fff" stroke="none" stroke-width="1" />
<polygon points="648.4,498.6 678.9,522.09 678.9,524.68 648.4,501.2" fill="url(#d)" stroke="none" stroke-width="1" />
<line x1="648.4" y1="495.4" x2="678.9" y2="518.88" stroke="#000" stroke-width="0.85" />
<line x1="648.4" y1="498.6" x2="678.9" y2="522.09" stroke="#000" stroke-width="0.85" />
<line x1="648.4" y1="501.2" x2="678.9" y2="524.68" stroke="#000" stroke-width="0.85" />
<polygon points="678.9,518.88 681.3,520.68 681.3,523.88 678.9,522.09" fill="#fff" stroke="#000" stroke-width="0.85" />
<line x1="650.2" y1="502.8" x2="675.7" y2="522.43" stroke="#000" stroke-width="1.6" />
<polygon points="650.2,503.4 675.7,523.03 675.7,525.43 650.2,505.8" fill="#fff" stroke="none" stroke-width="1" />
<polygon points="650.2,503.4 675.7,523.03 675.7,525.43 650.2,505.8" fill="url(#d4)" stroke="none" stroke-width="1" />
<line x1="650.2" y1="503.4" x2="675.7" y2="523.03" stroke="#000" stroke-width="0.85" />
<line x1="650.2" y1="505.8" x2="675.7" y2="525.43" stroke="#000" stroke-width="0.85" />
<polygon points="642.05,501.95 672.55,525.43 672.55,531.23 642.05,507.75" fill="#fff" stroke="none" stroke-width="1" />
<polygon points="642.05,505.15 672.55,528.63 672.55,531.23 642.05,507.75" fill="url(#d)" stroke="none" stroke-width="1" />
<line x1="642.05" y1="501.95" x2="672.55" y2="525.43" stroke="#000" stroke-width="0.85" />
<line x1="642.05" y1="505.15" x2="672.55" y2="528.63" stroke="#000" stroke-width="0.85" />
<line x1="642.05" y1="507.75" x2="672.55" y2="531.23" stroke="#000" stroke-width="0.85" />
<polygon points="672.55,525.43 674.95,527.23 674.95,530.43 672.55,528.63" fill="#fff" stroke="#000" stroke-width="0.85" />
<line x1="643.85" y1="509.35" x2="669.35" y2="528.99" stroke="#000" stroke-width="1.6" />
<polygon points="643.85,509.95 669.35,529.59 669.35,531.99 643.85,512.35" fill="#fff" stroke="none" stroke-width="1" />
<polygon points="643.85,509.95 669.35,529.59 669.35,531.99 643.85,512.35" fill="url(#d4)" stroke="none" stroke-width="1" />
<line x1="643.85" y1="509.95" x2="669.35" y2="529.59" stroke="#000" stroke-width="0.85" />
<line x1="643.85" y1="512.35" x2="669.35" y2="531.99" stroke="#000" stroke-width="0.85" />
<polygon points="635.7,508.5 666.2,531.99 666.2,537.78 635.7,514.3" fill="#fff" stroke="none" stroke-width="1" />
<polygon points="635.7,511.7 666.2,535.19 666.2,537.78 635.7,514.3" fill="url(#d)" stroke="none" stroke-width="1" />
<line x1="635.7" y1="508.5" x2="666.2" y2="531.99" stroke="#000" stroke-width="0.85" />
<line x1="635.7" y1="511.7" x2="666.2" y2="535.19" stroke="#000" stroke-width="0.85" />
<line x1="635.7" y1="514.3" x2="666.2" y2="537.78" stroke="#000" stroke-width="0.85" />
<polygon points="666.2,531.99 668.6,533.78 668.6,536.99 666.2,535.19" fill="#fff" stroke="#000" stroke-width="0.85" />
<line x1="637.5" y1="515.9" x2="663" y2="535.53" stroke="#000" stroke-width="1.6" />
<polygon points="637.5,516.5 663,536.13 663,538.53 637.5,518.9" fill="#fff" stroke="none" stroke-width="1" />
<polygon points="637.5,516.5 663,536.13 663,538.53 637.5,518.9" fill="url(#d4)" stroke="none" stroke-width="1" />
<line x1="637.5" y1="516.5" x2="663" y2="536.13" stroke="#000" stroke-width="0.85" />
<line x1="637.5" y1="518.9" x2="663" y2="538.53" stroke="#000" stroke-width="0.85" />
<polygon points="629.35,515.05 659.85,538.53 659.85,544.33 629.35,520.85" fill="#fff" stroke="none" stroke-width="1" />
<polygon points="629.35,518.25 659.85,541.74 659.85,544.33 629.35,520.85" fill="url(#d)" stroke="none" stroke-width="1" />
<line x1="629.35" y1="515.05" x2="659.85" y2="538.53" stroke="#000" stroke-width="0.85" />
<line x1="629.35" y1="518.25" x2="659.85" y2="541.74" stroke="#000" stroke-width="0.85" />
<line x1="629.35" y1="520.85" x2="659.85" y2="544.33" stroke="#000" stroke-width="0.85" />
<polygon points="659.85,538.53 662.25,540.33 662.25,543.53 659.85,541.74" fill="#fff" stroke="#000" stroke-width="0.85" />
<line x1="631.15" y1="522.45" x2="656.65" y2="542.08" stroke="#000" stroke-width="1.6" />
<polygon points="631.15,523.05 656.65,542.68 656.65,545.08 631.15,525.45" fill="#fff" stroke="none" stroke-width="1" />
<polygon points="631.15,523.05 656.65,542.68 656.65,545.08 631.15,525.45" fill="url(#d4)" stroke="none" stroke-width="1" />
<line x1="631.15" y1="523.05" x2="656.65" y2="542.68" stroke="#000" stroke-width="0.85" />
<line x1="631.15" y1="525.45" x2="656.65" y2="545.08" stroke="#000" stroke-width="0.85" />
<polygon points="623,521.6 653.5,545.09 653.5,550.88 623,527.4" fill="#fff" stroke="none" stroke-width="1" />
<polygon points="623,524.8 653.5,548.29 653.5,550.88 623,527.4" fill="url(#d)" stroke="none" stroke-width="1" />
<line x1="623" y1="521.6" x2="653.5" y2="545.09" stroke="#000" stroke-width="0.85" />
<line x1="623" y1="524.8" x2="653.5" y2="548.29" stroke="#000" stroke-width="0.85" />
<line x1="623" y1="527.4" x2="653.5" y2="550.88" stroke="#000" stroke-width="0.85" />
<polygon points="653.5,545.09 655.9,546.88 655.9,550.09 653.5,548.29" fill="#fff" stroke="#000" stroke-width="0.85" />
<line x1="624.8" y1="529" x2="650.3" y2="548.63" stroke="#000" stroke-width="1.6" />
<polygon points="624.8,529.6 650.3,549.24 650.3,551.63 624.8,532" fill="#fff" stroke="none" stroke-width="1" />
<polygon points="624.8,529.6 650.3,549.24 650.3,551.63 624.8,532" fill="url(#d4)" stroke="none" stroke-width="1" />
<line x1="624.8" y1="529.6" x2="650.3" y2="549.24" stroke="#000" stroke-width="0.85" />
<line x1="624.8" y1="532" x2="650.3" y2="551.63" stroke="#000" stroke-width="0.85" />
<polygon points="616.65,528.15 647.15,551.63 647.15,557.43 616.65,533.95" fill="#fff" stroke="none" stroke-width="1" />
<polygon points="616.65,531.35 647.15,554.84 647.15,557.43 616.65,533.95" fill="url(#d)" stroke="none" stroke-width="1" />
<line x1="616.65" y1="528.15" x2="647.15" y2="551.63" stroke="#000" stroke-width="0.85" />
<line x1="616.65" y1="531.35" x2="647.15" y2="554.84" stroke="#000" stroke-width="0.85" />
<line x1="616.65" y1="533.95" x2="647.15" y2="557.43" stroke="#000" stroke-width="0.85" />
<polygon points="647.15,551.63 649.55,553.43 649.55,556.63 647.15,554.84" fill="#fff" stroke="#000" stroke-width="0.85" />
<line x1="618.45" y1="535.55" x2="643.95" y2="555.18" stroke="#000" stroke-width="1.6" />
<polygon points="618.45,536.15 643.95,555.78 643.95,558.18 618.45,538.55" fill="#fff" stroke="none" stroke-width="1" />
<polygon points="618.45,536.15 643.95,555.78 643.95,558.18 618.45,538.55" fill="url(#d4)" stroke="none" stroke-width="1" />
<line x1="618.45" y1="536.15" x2="643.95" y2="555.78" stroke="#000" stroke-width="0.85" />
<line x1="618.45" y1="538.55" x2="643.95" y2="558.18" stroke="#000" stroke-width="0.85" />
<polygon points="610.3,534.7 640.8,558.19 640.8,563.99 610.3,540.5" fill="#fff" stroke="none" stroke-width="1" />
<polygon points="610.3,537.9 640.8,561.39 640.8,563.99 610.3,540.5" fill="url(#d)" stroke="none" stroke-width="1" />
<line x1="610.3" y1="534.7" x2="640.8" y2="558.19" stroke="#000" stroke-width="0.85" />
<line x1="610.3" y1="537.9" x2="640.8" y2="561.39" stroke="#000" stroke-width="0.85" />
<line x1="610.3" y1="540.5" x2="640.8" y2="563.99" stroke="#000" stroke-width="0.85" />
<polygon points="640.8,558.19 643.2,559.99 643.2,563.19 640.8,561.39" fill="#fff" stroke="#000" stroke-width="0.85" />
<line x1="612.1" y1="542.1" x2="637.6" y2="561.74" stroke="#000" stroke-width="1.6" />
<polygon points="612.1,542.7 637.6,562.34 637.6,564.74 612.1,545.1" fill="#fff" stroke="none" stroke-width="1" />
<polygon points="612.1,542.7 637.6,562.34 637.6,564.74 612.1,545.1" fill="url(#d4)" stroke="none" stroke-width="1" />
<line x1="612.1" y1="542.7" x2="637.6" y2="562.34" stroke="#000" stroke-width="0.85" />
<line x1="612.1" y1="545.1" x2="637.6" y2="564.74" stroke="#000" stroke-width="0.85" />
<polygon points="603.95,541.25 634.45,564.74 634.45,570.53 603.95,547.05" fill="#fff" stroke="none" stroke-width="1" />
<polygon points="603.95,544.45 634.45,567.94 634.45,570.53 603.95,547.05" fill="url(#d)" stroke="none" stroke-width="1" />
<line x1="603.95" y1="541.25" x2="634.45" y2="564.74" stroke="#000" stroke-width="0.85" />
<line x1="603.95" y1="544.45" x2="634.45" y2="567.94" stroke="#000" stroke-width="0.85" />
<line x1="603.95" y1="547.05" x2="634.45" y2="570.53" stroke="#000" stroke-width="0.85" />
<polygon points="634.45,564.74 636.85,566.53 636.85,569.74 634.45,567.94" fill="#fff" stroke="#000" stroke-width="0.85" />
<line x1="605.75" y1="548.65" x2="631.25" y2="568.28" stroke="#000" stroke-width="1.6" />
<polygon points="605.75,549.25 631.25,568.88 631.25,571.28 605.75,551.65" fill="#fff" stroke="none" stroke-width="1" />
<polygon points="605.75,549.25 631.25,568.88 631.25,571.28 605.75,551.65" fill="url(#d4)" stroke="none" stroke-width="1" />
<line x1="605.75" y1="549.25" x2="631.25" y2="568.88" stroke="#000" stroke-width="0.85" />
<line x1="605.75" y1="551.65" x2="631.25" y2="571.28" stroke="#000" stroke-width="0.85" />
<polygon points="597.6,547.8 628.1,571.28 628.1,577.08 597.6,553.6" fill="#fff" stroke="none" stroke-width="1" />
<polygon points="597.6,551 628.1,574.49 628.1,577.08 597.6,553.6" fill="url(#d)" stroke="none" stroke-width="1" />
<line x1="597.6" y1="547.8" x2="628.1" y2="571.28" stroke="#000" stroke-width="0.85" />
<line x1="597.6" y1="551" x2="628.1" y2="574.49" stroke="#000" stroke-width="0.85" />
<line x1="597.6" y1="553.6" x2="628.1" y2="577.08" stroke="#000" stroke-width="0.85" />
<polygon points="628.1,571.28 630.5,573.08 630.5,576.28 628.1,574.49" fill="#fff" stroke="#000" stroke-width="0.85" />
<line x1="599.4" y1="555.2" x2="624.9" y2="574.83" stroke="#000" stroke-width="1.6" />
<polygon points="599.4,555.8 624.9,575.43 624.9,577.83 599.4,558.2" fill="#fff" stroke="none" stroke-width="1" />
<polygon points="599.4,555.8 624.9,575.43 624.9,577.83 599.4,558.2" fill="url(#d4)" stroke="none" stroke-width="1" />
<line x1="599.4" y1="555.8" x2="624.9" y2="575.43" stroke="#000" stroke-width="0.85" />
<line x1="599.4" y1="558.2" x2="624.9" y2="577.83" stroke="#000" stroke-width="0.85" />
<polygon points="591.25,554.35 621.75,577.84 621.75,583.63 591.25,560.15" fill="#fff" stroke="none" stroke-width="1" />
<polygon points="591.25,557.55 621.75,581.04 621.75,583.63 591.25,560.15" fill="url(#d)" stroke="none" stroke-width="1" />
<line x1="591.25" y1="554.35" x2="621.75" y2="577.84" stroke="#000" stroke-width="0.85" />
<line x1="591.25" y1="557.55" x2="621.75" y2="581.04" stroke="#000" stroke-width="0.85" />
<line x1="591.25" y1="560.15" x2="621.75" y2="583.63" stroke="#000" stroke-width="0.85" />
<polygon points="621.75,577.84 624.15,579.63 624.15,582.84 621.75,581.04" fill="#fff" stroke="#000" stroke-width="0.85" />
<line x1="593.05" y1="561.75" x2="618.55" y2="581.38" stroke="#000" stroke-width="1.6" />
<polygon points="593.05,562.35 618.55,581.99 618.55,584.38 593.05,564.75" fill="#fff" stroke="none" stroke-width="1" />
<polygon points="593.05,562.35 618.55,581.99 618.55,584.38 593.05,564.75" fill="url(#d4)" stroke="none" stroke-width="1" />
<line x1="593.05" y1="562.35" x2="618.55" y2="581.99" stroke="#000" stroke-width="0.85" />
<line x1="593.05" y1="564.75" x2="618.55" y2="584.38" stroke="#000" stroke-width="0.85" />
<polygon points="584.9,560.9 615.4,584.38 615.4,590.18 584.9,566.7" fill="#fff" stroke="none" stroke-width="1" />
<polygon points="584.9,564.1 615.4,587.59 615.4,590.18 584.9,566.7" fill="url(#d)" stroke="none" stroke-width="1" />
<line x1="584.9" y1="560.9" x2="615.4" y2="584.38" stroke="#000" stroke-width="0.85" />
<line x1="584.9" y1="564.1" x2="615.4" y2="587.59" stroke="#000" stroke-width="0.85" />
<line x1="584.9" y1="566.7" x2="615.4" y2="590.18" stroke="#000" stroke-width="0.85" />
<polygon points="615.4,584.38 617.8,586.18 617.8,589.38 615.4,587.59" fill="#fff" stroke="#000" stroke-width="0.85" />
<line x1="586.7" y1="568.3" x2="612.2" y2="587.93" stroke="#000" stroke-width="1.6" />
<polygon points="586.7,568.9 612.2,588.53 612.2,590.93 586.7,571.3" fill="#fff" stroke="none" stroke-width="1" />
<polygon points="586.7,568.9 612.2,588.53 612.2,590.93 586.7,571.3" fill="url(#d4)" stroke="none" stroke-width="1" />
<line x1="586.7" y1="568.9" x2="612.2" y2="588.53" stroke="#000" stroke-width="0.85" />
<line x1="586.7" y1="571.3" x2="612.2" y2="590.93" stroke="#000" stroke-width="0.85" />
<polygon points="578.55,567.45 609.05,590.94 609.05,596.74 578.55,573.25" fill="#fff" stroke="none" stroke-width="1" />
<polygon points="578.55,570.65 609.05,594.14 609.05,596.74 578.55,573.25" fill="url(#d)" stroke="none" stroke-width="1" />
<line x1="578.55" y1="567.45" x2="609.05" y2="590.94" stroke="#000" stroke-width="0.85" />
<line x1="578.55" y1="570.65" x2="609.05" y2="594.14" stroke="#000" stroke-width="0.85" />
<line x1="578.55" y1="573.25" x2="609.05" y2="596.74" stroke="#000" stroke-width="0.85" />
<polygon points="609.05,590.94 611.45,592.74 611.45,595.94 609.05,594.14" fill="#fff" stroke="#000" stroke-width="0.85" />
<line x1="580.35" y1="574.85" x2="605.85" y2="594.49" stroke="#000" stroke-width="1.6" />
<polygon points="580.35,575.45 605.85,595.09 605.85,597.49 580.35,577.85" fill="#fff" stroke="none" stroke-width="1" />
<polygon points="580.35,575.45 605.85,595.09 605.85,597.49 580.35,577.85" fill="url(#d4)" stroke="none" stroke-width="1" />
<line x1="580.35" y1="575.45" x2="605.85" y2="595.09" stroke="#000" stroke-width="0.85" />
<line x1="580.35" y1="577.85" x2="605.85" y2="597.49" stroke="#000" stroke-width="0.85" />
<polygon points="572.2,574 602.7,597.49 602.7,603.28 572.2,579.8" fill="#fff" stroke="none" stroke-width="1" />
<polygon points="572.2,577.2 602.7,600.69 602.7,603.28 572.2,579.8" fill="url(#d)" stroke="none" stroke-width="1" />
<line x1="572.2" y1="574" x2="602.7" y2="597.49" stroke="#000" stroke-width="0.85" />
<line x1="572.2" y1="577.2" x2="602.7" y2="600.69" stroke="#000" stroke-width="0.85" />
<line x1="572.2" y1="579.8" x2="602.7" y2="603.28" stroke="#000" stroke-width="0.85" />
<polygon points="602.7,597.49 605.1,599.28 605.1,602.49 602.7,600.69" fill="#fff" stroke="#000" stroke-width="0.85" />
<line x1="574" y1="581.4" x2="599.5" y2="601.03" stroke="#000" stroke-width="1.6" />
<polygon points="574,582 599.5,601.63 599.5,604.03 574,584.4" fill="#fff" stroke="none" stroke-width="1" />
<polygon points="574,582 599.5,601.63 599.5,604.03 574,584.4" fill="url(#d4)" stroke="none" stroke-width="1" />
<line x1="574" y1="582" x2="599.5" y2="601.63" stroke="#000" stroke-width="0.85" />
<line x1="574" y1="584.4" x2="599.5" y2="604.03" stroke="#000" stroke-width="0.85" />
<polygon points="531.86,584.53 534.26,586.33 534.26,594.33 533.06,594.03 531.86,592.53" fill="#fff" stroke="#000" stroke-width="0.85" />
<polygon points="538.36,589.4 531.86,584.53 534.26,582.03 540.76,586.9" fill="#fff" stroke="#000" stroke-width="0.85" />
<polygon points="527.86,577.53 530.26,579.33 530.26,589.83 529.06,589.53 527.86,588.03" fill="#fff" stroke="#000" stroke-width="0.85" />
<polygon points="530.26,579.33 532.26,577.73 532.26,588.03 530.26,589.83" fill="url(#d)" stroke="#000" stroke-width="0.85" />
<polygon points="538.36,585.4 527.86,577.53 527.86,579.53 538.36,587.4" fill="url(#d)" stroke="#000" stroke-width="0.85" />
<polygon points="538.36,585.4 527.86,577.53 530.26,575.03 540.76,582.9" fill="#fff" stroke="#000" stroke-width="0.85" />
<polygon points="525.58,591.03 527.98,592.83 527.98,600.83 526.78,600.53 525.58,599.03" fill="#fff" stroke="#000" stroke-width="0.85" />
<polygon points="532.08,595.9 525.58,591.03 527.98,588.53 534.48,593.4" fill="#fff" stroke="#000" stroke-width="0.85" />
<polygon points="521.58,584.03 523.98,585.83 523.98,596.33 522.78,596.03 521.58,594.53" fill="#fff" stroke="#000" stroke-width="0.85" />
<polygon points="523.98,585.83 525.98,584.23 525.98,594.53 523.98,596.33" fill="url(#d)" stroke="#000" stroke-width="0.85" />
<polygon points="532.08,591.9 521.58,584.03 521.58,586.03 532.08,593.9" fill="url(#d)" stroke="#000" stroke-width="0.85" />
<polygon points="532.08,591.9 521.58,584.03 523.98,581.53 534.48,589.4" fill="#fff" stroke="#000" stroke-width="0.85" />
<polygon points="519.3,597.53 521.7,599.33 521.7,607.33 520.5,607.03 519.3,605.53" fill="#fff" stroke="#000" stroke-width="0.85" />
<polygon points="525.8,602.4 519.3,597.53 521.7,595.03 528.2,599.9" fill="#fff" stroke="#000" stroke-width="0.85" />
<polygon points="515.3,590.53 517.7,592.33 517.7,602.83 516.5,602.53 515.3,601.03" fill="#fff" stroke="#000" stroke-width="0.85" />
<polygon points="517.7,592.33 519.7,590.73 519.7,601.03 517.7,602.83" fill="url(#d)" stroke="#000" stroke-width="0.85" />
<polygon points="525.8,598.4 515.3,590.53 515.3,592.53 525.8,600.4" fill="url(#d)" stroke="#000" stroke-width="0.85" />
<polygon points="525.8,598.4 515.3,590.53 517.7,588.03 528.2,595.9" fill="#fff" stroke="#000" stroke-width="0.85" />
<polygon points="526.6,601.2 536.8,607.3 536.8,622.6 526.6,616.5" fill="#fff" stroke="#000" stroke-width="1" />
<polygon points="536.8,607.3 559.7,584.8 559.7,600.1 536.8,622.6" fill="#fff" stroke="#000" stroke-width="1" />
<polygon points="549.7,577.6 559.7,584.8 536.8,607.3 526.6,601.2" fill="#fff" stroke="#000" stroke-width="1" />
<line x1="526.6" y1="601.2" x2="549.7" y2="577.6" stroke="#000" stroke-width="2" />
<polygon points="551.7,595.7 581.2,618.41 581.2,624.21 551.7,601.5" fill="#fff" stroke="none" stroke-width="1" />
<polygon points="551.7,598.9 581.2,621.62 581.2,624.21 551.7,601.5" fill="url(#d)" stroke="none" stroke-width="1" />
<line x1="551.7" y1="595.7" x2="581.2" y2="618.41" stroke="#000" stroke-width="0.85" />
<line x1="551.7" y1="598.9" x2="581.2" y2="621.62" stroke="#000" stroke-width="0.85" />
<line x1="551.7" y1="601.5" x2="581.2" y2="624.21" stroke="#000" stroke-width="0.85" />
<polygon points="581.2,618.41 583.6,620.21 583.6,623.41 581.2,621.62" fill="#fff" stroke="#000" stroke-width="0.85" />
<line x1="553.5" y1="603.1" x2="578" y2="621.96" stroke="#000" stroke-width="1.6" />
<polygon points="553.5,603.7 578,622.56 578,624.96 553.5,606.1" fill="#fff" stroke="none" stroke-width="1" />
<polygon points="553.5,603.7 578,622.56 578,624.96 553.5,606.1" fill="url(#d4)" stroke="none" stroke-width="1" />
<line x1="553.5" y1="603.7" x2="578" y2="622.56" stroke="#000" stroke-width="0.85" />
<line x1="553.5" y1="606.1" x2="578" y2="624.96" stroke="#000" stroke-width="0.85" />
<polygon points="545.35,602.25 574.85,624.97 574.85,630.76 545.35,608.05" fill="#fff" stroke="none" stroke-width="1" />
<polygon points="545.35,605.45 574.85,628.17 574.85,630.76 545.35,608.05" fill="url(#d)" stroke="none" stroke-width="1" />
<line x1="545.35" y1="602.25" x2="574.85" y2="624.97" stroke="#000" stroke-width="0.85" />
<line x1="545.35" y1="605.45" x2="574.85" y2="628.17" stroke="#000" stroke-width="0.85" />
<line x1="545.35" y1="608.05" x2="574.85" y2="630.76" stroke="#000" stroke-width="0.85" />
<polygon points="574.85,624.97 577.25,626.76 577.25,629.97 574.85,628.17" fill="#fff" stroke="#000" stroke-width="0.85" />
<line x1="547.15" y1="609.65" x2="571.65" y2="628.51" stroke="#000" stroke-width="1.6" />
<polygon points="547.15,610.25 571.65,629.12 571.65,631.51 547.15,612.65" fill="#fff" stroke="none" stroke-width="1" />
<polygon points="547.15,610.25 571.65,629.12 571.65,631.51 547.15,612.65" fill="url(#d4)" stroke="none" stroke-width="1" />
<line x1="547.15" y1="610.25" x2="571.65" y2="629.12" stroke="#000" stroke-width="0.85" />
<line x1="547.15" y1="612.65" x2="571.65" y2="631.51" stroke="#000" stroke-width="0.85" />
<polygon points="539,608.8 568.5,631.51 568.5,637.31 539,614.6" fill="#fff" stroke="none" stroke-width="1" />
<polygon points="539,612 568.5,634.72 568.5,637.31 539,614.6" fill="url(#d)" stroke="none" stroke-width="1" />
<line x1="539" y1="608.8" x2="568.5" y2="631.51" stroke="#000" stroke-width="0.85" />
<line x1="539" y1="612" x2="568.5" y2="634.72" stroke="#000" stroke-width="0.85" />
<line x1="539" y1="614.6" x2="568.5" y2="637.31" stroke="#000" stroke-width="0.85" />
<polygon points="568.5,631.51 570.9,633.31 570.9,636.51 568.5,634.72" fill="#fff" stroke="#000" stroke-width="0.85" />
<line x1="540.8" y1="616.2" x2="565.3" y2="635.06" stroke="#000" stroke-width="1.6" />
<polygon points="540.8,616.8 565.3,635.66 565.3,638.06 540.8,619.2" fill="#fff" stroke="none" stroke-width="1" />
<polygon points="540.8,616.8 565.3,635.66 565.3,638.06 540.8,619.2" fill="url(#d4)" stroke="none" stroke-width="1" />
<line x1="540.8" y1="616.8" x2="565.3" y2="635.66" stroke="#000" stroke-width="0.85" />
<line x1="540.8" y1="619.2" x2="565.3" y2="638.06" stroke="#000" stroke-width="0.85" />
<polygon points="779.8,418.8 784.5,418.6 791.2,421.5 787.6,425.6 784.5,423.5" fill="#000" stroke="none"/>
<polygon points="778,421.8 781.5,423.5 785.6,428.4 783.6,432.2 780.6,427.5" fill="#000" stroke="none"/>
<polygon points="187,484.3 160.5,467.34 160.5,470.54 187,487.5" fill="#fff" stroke="none" stroke-width="1" />
<polygon points="187,484.3 160.5,467.34 160.5,470.54 187,487.5" fill="url(#d)" stroke="none" stroke-width="1" />
<line x1="187" y1="484.3" x2="160.5" y2="467.34" stroke="#000" stroke-width="0.85" />
<line x1="187" y1="487.5" x2="160.5" y2="470.54" stroke="#000" stroke-width="0.85" />
<line x1="160.5" y1="467.34" x2="160.5" y2="470.54" stroke="#000" stroke-width="1" />
<line x1="187" y1="484.3" x2="160.5" y2="467.34" stroke="#000" stroke-width="1.5" />
<polygon points="180.65,491.2 154.15,474.24 154.15,477.44 180.65,494.4" fill="#fff" stroke="none" stroke-width="1" />
<polygon points="180.65,491.2 154.15,474.24 154.15,477.44 180.65,494.4" fill="url(#d)" stroke="none" stroke-width="1" />
<line x1="180.65" y1="491.2" x2="154.15" y2="474.24" stroke="#000" stroke-width="0.85" />
<line x1="180.65" y1="494.4" x2="154.15" y2="477.44" stroke="#000" stroke-width="0.85" />
<line x1="154.15" y1="474.24" x2="154.15" y2="477.44" stroke="#000" stroke-width="1" />
<line x1="180.65" y1="491.2" x2="154.15" y2="474.24" stroke="#000" stroke-width="1.5" />
<polygon points="174.3,498.1 147.8,481.14 147.8,484.34 174.3,501.3" fill="#fff" stroke="none" stroke-width="1" />
<polygon points="174.3,498.1 147.8,481.14 147.8,484.34 174.3,501.3" fill="url(#d)" stroke="none" stroke-width="1" />
<line x1="174.3" y1="498.1" x2="147.8" y2="481.14" stroke="#000" stroke-width="0.85" />
<line x1="174.3" y1="501.3" x2="147.8" y2="484.34" stroke="#000" stroke-width="0.85" />
<line x1="147.8" y1="481.14" x2="147.8" y2="484.34" stroke="#000" stroke-width="1" />
<line x1="174.3" y1="498.1" x2="147.8" y2="481.14" stroke="#000" stroke-width="1.5" />
<polygon points="167.95,505 141.45,488.04 141.45,491.24 167.95,508.2" fill="#fff" stroke="none" stroke-width="1" />
<polygon points="167.95,505 141.45,488.04 141.45,491.24 167.95,508.2" fill="url(#d)" stroke="none" stroke-width="1" />
<line x1="167.95" y1="505" x2="141.45" y2="488.04" stroke="#000" stroke-width="0.85" />
<line x1="167.95" y1="508.2" x2="141.45" y2="491.24" stroke="#000" stroke-width="0.85" />
<line x1="141.45" y1="488.04" x2="141.45" y2="491.24" stroke="#000" stroke-width="1" />
<line x1="167.95" y1="505" x2="141.45" y2="488.04" stroke="#000" stroke-width="1.5" />
<polygon points="161.6,511.9 135.1,494.94 135.1,498.14 161.6,515.1" fill="#fff" stroke="none" stroke-width="1" />
<polygon points="161.6,511.9 135.1,494.94 135.1,498.14 161.6,515.1" fill="url(#d)" stroke="none" stroke-width="1" />
<line x1="161.6" y1="511.9" x2="135.1" y2="494.94" stroke="#000" stroke-width="0.85" />
<line x1="161.6" y1="515.1" x2="135.1" y2="498.14" stroke="#000" stroke-width="0.85" />
<line x1="135.1" y1="494.94" x2="135.1" y2="498.14" stroke="#000" stroke-width="1" />
<line x1="161.6" y1="511.9" x2="135.1" y2="494.94" stroke="#000" stroke-width="1.5" />
<polygon points="186,477.9 158,459.98 158,465.78 186,483.7" fill="#fff" stroke="none" stroke-width="1" />
<polygon points="186,480.7 158,462.78 158,465.78 186,483.7" fill="url(#d)" stroke="none" stroke-width="1" />
<line x1="186" y1="477.9" x2="158" y2="459.98" stroke="#000" stroke-width="0.85" />
<line x1="186" y1="480.7" x2="158" y2="462.78" stroke="#000" stroke-width="0.85" />
<line x1="186" y1="483.7" x2="158" y2="465.78" stroke="#000" stroke-width="0.85" />
<line x1="158" y1="459.98" x2="158" y2="465.78" stroke="#000" stroke-width="1" />
<polygon points="179.65,484.8 151.65,466.88 151.65,472.68 179.65,490.6" fill="#fff" stroke="none" stroke-width="1" />
<polygon points="179.65,487.6 151.65,469.68 151.65,472.68 179.65,490.6" fill="url(#d)" stroke="none" stroke-width="1" />
<line x1="179.65" y1="484.8" x2="151.65" y2="466.88" stroke="#000" stroke-width="0.85" />
<line x1="179.65" y1="487.6" x2="151.65" y2="469.68" stroke="#000" stroke-width="0.85" />
<line x1="179.65" y1="490.6" x2="151.65" y2="472.68" stroke="#000" stroke-width="0.85" />
<line x1="151.65" y1="466.88" x2="151.65" y2="472.68" stroke="#000" stroke-width="1" />
<polygon points="173.3,491.7 145.3,473.78 145.3,479.58 173.3,497.5" fill="#fff" stroke="none" stroke-width="1" />
<polygon points="173.3,494.5 145.3,476.58 145.3,479.58 173.3,497.5" fill="url(#d)" stroke="none" stroke-width="1" />
<line x1="173.3" y1="491.7" x2="145.3" y2="473.78" stroke="#000" stroke-width="0.85" />
<line x1="173.3" y1="494.5" x2="145.3" y2="476.58" stroke="#000" stroke-width="0.85" />
<line x1="173.3" y1="497.5" x2="145.3" y2="479.58" stroke="#000" stroke-width="0.85" />
<line x1="145.3" y1="473.78" x2="145.3" y2="479.58" stroke="#000" stroke-width="1" />
<polygon points="166.95,498.6 138.95,480.68 138.95,486.48 166.95,504.4" fill="#fff" stroke="none" stroke-width="1" />
<polygon points="166.95,501.4 138.95,483.48 138.95,486.48 166.95,504.4" fill="url(#d)" stroke="none" stroke-width="1" />
<line x1="166.95" y1="498.6" x2="138.95" y2="480.68" stroke="#000" stroke-width="0.85" />
<line x1="166.95" y1="501.4" x2="138.95" y2="483.48" stroke="#000" stroke-width="0.85" />
<line x1="166.95" y1="504.4" x2="138.95" y2="486.48" stroke="#000" stroke-width="0.85" />
<line x1="138.95" y1="480.68" x2="138.95" y2="486.48" stroke="#000" stroke-width="1" />
<polygon points="160.6,505.5 132.6,487.58 132.6,493.38 160.6,511.3" fill="#fff" stroke="none" stroke-width="1" />
<polygon points="160.6,508.3 132.6,490.38 132.6,493.38 160.6,511.3" fill="url(#d)" stroke="none" stroke-width="1" />
<line x1="160.6" y1="505.5" x2="132.6" y2="487.58" stroke="#000" stroke-width="0.85" />
<line x1="160.6" y1="508.3" x2="132.6" y2="490.38" stroke="#000" stroke-width="0.85" />
<line x1="160.6" y1="511.3" x2="132.6" y2="493.38" stroke="#000" stroke-width="0.85" />
<line x1="132.6" y1="487.58" x2="132.6" y2="493.38" stroke="#000" stroke-width="1" />
<polygon points="155.1,508.4 165.4,515.3 165.4,531 155.1,524.1" fill="#fff" stroke="#000" stroke-width="1" />
<polygon points="165.4,515.3 201.8,478.9 201.8,494.6 165.4,531" fill="#fff" stroke="#000" stroke-width="1" />
<polygon points="191.5,471.4 201.8,478.9 165.4,515.3 155.1,508.4" fill="#fff" stroke="#000" stroke-width="1" />
<polygon points="204.35,498.8 206.55,500.45 206.55,505.95 205.45,506.95 204.35,504.3" fill="#fff" stroke="#000" stroke-width="0.85" />
<polygon points="206.55,500.45 208.95,497.95 208.95,503.45 207.75,507.15 206.55,505.95" fill="#fff" stroke="#000" stroke-width="0.85" />
<polygon points="196.05,494.15 206.55,500.45 206.55,502.45 196.05,496.15" fill="url(#d)" stroke="#000" stroke-width="0.85" />
<polygon points="196.05,494.15 206.55,500.45 208.95,497.95 198.45,491.65" fill="#fff" stroke="#000" stroke-width="0.85" />
<polygon points="212.25,497.54 214.45,499.19 214.45,511.69 213.35,512.69 212.25,510.04" fill="#fff" stroke="#000" stroke-width="0.85" />
<polygon points="214.45,499.19 216.85,496.69 216.85,509.19 215.65,512.89 214.45,511.69" fill="#fff" stroke="#000" stroke-width="0.85" />
<polygon points="195.55,487.85 214.45,499.19 214.45,501.19 195.55,489.85" fill="url(#d)" stroke="#000" stroke-width="0.85" />
<polygon points="195.55,487.85 214.45,499.19 216.85,496.69 197.95,485.35" fill="#fff" stroke="#000" stroke-width="0.85" />
<polygon points="197.8,505.35 200,507 200,512.5 198.9,513.5 197.8,510.85" fill="#fff" stroke="#000" stroke-width="0.85" />
<polygon points="200,507 202.4,504.5 202.4,510 201.2,513.7 200,512.5" fill="#fff" stroke="#000" stroke-width="0.85" />
<polygon points="189.5,500.7 200,507 200,509 189.5,502.7" fill="url(#d)" stroke="#000" stroke-width="0.85" />
<polygon points="189.5,500.7 200,507 202.4,504.5 191.9,498.2" fill="#fff" stroke="#000" stroke-width="0.85" />
<polygon points="205.7,504.09 207.9,505.74 207.9,518.24 206.8,519.24 205.7,516.59" fill="#fff" stroke="#000" stroke-width="0.85" />
<polygon points="207.9,505.74 210.3,503.24 210.3,515.74 209.1,519.44 207.9,518.24" fill="#fff" stroke="#000" stroke-width="0.85" />
<polygon points="189,494.4 207.9,505.74 207.9,507.74 189,496.4" fill="url(#d)" stroke="#000" stroke-width="0.85" />
<polygon points="189,494.4 207.9,505.74 210.3,503.24 191.4,491.9" fill="#fff" stroke="#000" stroke-width="0.85" />
<polygon points="191.24,511.91 193.44,513.56 193.44,519.06 192.34,520.06 191.24,517.41" fill="#fff" stroke="#000" stroke-width="0.85" />
<polygon points="193.44,513.56 195.84,511.06 195.84,516.56 194.64,520.26 193.44,519.06" fill="#fff" stroke="#000" stroke-width="0.85" />
<polygon points="182.94,507.26 193.44,513.56 193.44,515.56 182.94,509.26" fill="url(#d)" stroke="#000" stroke-width="0.85" />
<polygon points="182.94,507.26 193.44,513.56 195.84,511.06 185.34,504.76" fill="#fff" stroke="#000" stroke-width="0.85" />
<polygon points="199.14,510.65 201.34,512.3 201.34,524.8 200.24,525.8 199.14,523.15" fill="#fff" stroke="#000" stroke-width="0.85" />
<polygon points="201.34,512.3 203.74,509.8 203.74,522.3 202.54,526 201.34,524.8" fill="#fff" stroke="#000" stroke-width="0.85" />
<polygon points="182.44,500.96 201.34,512.3 201.34,514.3 182.44,502.96" fill="url(#d)" stroke="#000" stroke-width="0.85" />
<polygon points="182.44,500.96 201.34,512.3 203.74,509.8 184.84,498.46" fill="#fff" stroke="#000" stroke-width="0.85" />
<polygon points="184.69,518.46 186.89,520.11 186.89,525.61 185.79,526.61 184.69,523.96" fill="#fff" stroke="#000" stroke-width="0.85" />
<polygon points="186.89,520.11 189.29,517.61 189.29,523.11 188.09,526.81 186.89,525.61" fill="#fff" stroke="#000" stroke-width="0.85" />
<polygon points="176.39,513.81 186.89,520.11 186.89,522.11 176.39,515.81" fill="url(#d)" stroke="#000" stroke-width="0.85" />
<polygon points="176.39,513.81 186.89,520.11 189.29,517.61 178.79,511.31" fill="#fff" stroke="#000" stroke-width="0.85" />
<polygon points="192.59,517.2 194.79,518.85 194.79,531.35 193.69,532.35 192.59,529.7" fill="#fff" stroke="#000" stroke-width="0.85" />
<polygon points="194.79,518.85 197.19,516.35 197.19,528.85 195.99,532.55 194.79,531.35" fill="#fff" stroke="#000" stroke-width="0.85" />
<polygon points="175.89,507.51 194.79,518.85 194.79,520.85 175.89,509.51" fill="url(#d)" stroke="#000" stroke-width="0.85" />
<polygon points="175.89,507.51 194.79,518.85 197.19,516.35 178.29,505.01" fill="#fff" stroke="#000" stroke-width="0.85" />
<polygon points="178.14,525.01 180.34,526.66 180.34,532.16 179.24,533.16 178.14,530.51" fill="#fff" stroke="#000" stroke-width="0.85" />
<polygon points="180.34,526.66 182.74,524.16 182.74,529.66 181.54,533.36 180.34,532.16" fill="#fff" stroke="#000" stroke-width="0.85" />
<polygon points="169.84,520.36 180.34,526.66 180.34,528.66 169.84,522.36" fill="url(#d)" stroke="#000" stroke-width="0.85" />
<polygon points="169.84,520.36 180.34,526.66 182.74,524.16 172.24,517.86" fill="#fff" stroke="#000" stroke-width="0.85" />
<polygon points="186.04,523.75 188.24,525.4 188.24,537.9 187.14,538.9 186.04,536.25" fill="#fff" stroke="#000" stroke-width="0.85" />
<polygon points="188.24,525.4 190.64,522.9 190.64,535.4 189.44,539.1 188.24,537.9" fill="#fff" stroke="#000" stroke-width="0.85" />
<polygon points="169.34,514.06 188.24,525.4 188.24,527.4 169.34,516.06" fill="url(#d)" stroke="#000" stroke-width="0.85" />
<polygon points="169.34,514.06 188.24,525.4 190.64,522.9 171.74,511.56" fill="#fff" stroke="#000" stroke-width="0.85" />
<polygon points="146.4,524.9 119.9,507.94 119.9,511.14 146.4,528.1" fill="#fff" stroke="none" stroke-width="1" />
<polygon points="146.4,524.9 119.9,507.94 119.9,511.14 146.4,528.1" fill="url(#d)" stroke="none" stroke-width="1" />
<line x1="146.4" y1="524.9" x2="119.9" y2="507.94" stroke="#000" stroke-width="0.85" />
<line x1="146.4" y1="528.1" x2="119.9" y2="511.14" stroke="#000" stroke-width="0.85" />
<line x1="119.9" y1="507.94" x2="119.9" y2="511.14" stroke="#000" stroke-width="1" />
<line x1="146.4" y1="524.9" x2="119.9" y2="507.94" stroke="#000" stroke-width="1.5" />
<polygon points="140.05,531.8 113.55,514.84 113.55,518.04 140.05,535" fill="#fff" stroke="none" stroke-width="1" />
<polygon points="140.05,531.8 113.55,514.84 113.55,518.04 140.05,535" fill="url(#d)" stroke="none" stroke-width="1" />
<line x1="140.05" y1="531.8" x2="113.55" y2="514.84" stroke="#000" stroke-width="0.85" />
<line x1="140.05" y1="535" x2="113.55" y2="518.04" stroke="#000" stroke-width="0.85" />
<line x1="113.55" y1="514.84" x2="113.55" y2="518.04" stroke="#000" stroke-width="1" />
<line x1="140.05" y1="531.8" x2="113.55" y2="514.84" stroke="#000" stroke-width="1.5" />
<polygon points="133.7,538.7 107.2,521.74 107.2,524.94 133.7,541.9" fill="#fff" stroke="none" stroke-width="1" />
<polygon points="133.7,538.7 107.2,521.74 107.2,524.94 133.7,541.9" fill="url(#d)" stroke="none" stroke-width="1" />
<line x1="133.7" y1="538.7" x2="107.2" y2="521.74" stroke="#000" stroke-width="0.85" />
<line x1="133.7" y1="541.9" x2="107.2" y2="524.94" stroke="#000" stroke-width="0.85" />
<line x1="107.2" y1="521.74" x2="107.2" y2="524.94" stroke="#000" stroke-width="1" />
<line x1="133.7" y1="538.7" x2="107.2" y2="521.74" stroke="#000" stroke-width="1.5" />
<polygon points="127.35,545.6 100.85,528.64 100.85,531.84 127.35,548.8" fill="#fff" stroke="none" stroke-width="1" />
<polygon points="127.35,545.6 100.85,528.64 100.85,531.84 127.35,548.8" fill="url(#d)" stroke="none" stroke-width="1" />
<line x1="127.35" y1="545.6" x2="100.85" y2="528.64" stroke="#000" stroke-width="0.85" />
<line x1="127.35" y1="548.8" x2="100.85" y2="531.84" stroke="#000" stroke-width="0.85" />
<line x1="100.85" y1="528.64" x2="100.85" y2="531.84" stroke="#000" stroke-width="1" />
<line x1="127.35" y1="545.6" x2="100.85" y2="528.64" stroke="#000" stroke-width="1.5" />
<polygon points="121,552.5 94.5,535.54 94.5,538.74 121,555.7" fill="#fff" stroke="none" stroke-width="1" />
<polygon points="121,552.5 94.5,535.54 94.5,538.74 121,555.7" fill="url(#d)" stroke="none" stroke-width="1" />
<line x1="121" y1="552.5" x2="94.5" y2="535.54" stroke="#000" stroke-width="0.85" />
<line x1="121" y1="555.7" x2="94.5" y2="538.74" stroke="#000" stroke-width="0.85" />
<line x1="94.5" y1="535.54" x2="94.5" y2="538.74" stroke="#000" stroke-width="1" />
<line x1="121" y1="552.5" x2="94.5" y2="535.54" stroke="#000" stroke-width="1.5" />
<polygon points="145.4,518.5 117.4,500.58 117.4,506.38 145.4,524.3" fill="#fff" stroke="none" stroke-width="1" />
<polygon points="145.4,521.3 117.4,503.38 117.4,506.38 145.4,524.3" fill="url(#d)" stroke="none" stroke-width="1" />
<line x1="145.4" y1="518.5" x2="117.4" y2="500.58" stroke="#000" stroke-width="0.85" />
<line x1="145.4" y1="521.3" x2="117.4" y2="503.38" stroke="#000" stroke-width="0.85" />
<line x1="145.4" y1="524.3" x2="117.4" y2="506.38" stroke="#000" stroke-width="0.85" />
<line x1="117.4" y1="500.58" x2="117.4" y2="506.38" stroke="#000" stroke-width="1" />
<polygon points="139.05,525.4 111.05,507.48 111.05,513.28 139.05,531.2" fill="#fff" stroke="none" stroke-width="1" />
<polygon points="139.05,528.2 111.05,510.28 111.05,513.28 139.05,531.2" fill="url(#d)" stroke="none" stroke-width="1" />
<line x1="139.05" y1="525.4" x2="111.05" y2="507.48" stroke="#000" stroke-width="0.85" />
<line x1="139.05" y1="528.2" x2="111.05" y2="510.28" stroke="#000" stroke-width="0.85" />
<line x1="139.05" y1="531.2" x2="111.05" y2="513.28" stroke="#000" stroke-width="0.85" />
<line x1="111.05" y1="507.48" x2="111.05" y2="513.28" stroke="#000" stroke-width="1" />
<polygon points="132.7,532.3 104.7,514.38 104.7,520.18 132.7,538.1" fill="#fff" stroke="none" stroke-width="1" />
<polygon points="132.7,535.1 104.7,517.18 104.7,520.18 132.7,538.1" fill="url(#d)" stroke="none" stroke-width="1" />
<line x1="132.7" y1="532.3" x2="104.7" y2="514.38" stroke="#000" stroke-width="0.85" />
<line x1="132.7" y1="535.1" x2="104.7" y2="517.18" stroke="#000" stroke-width="0.85" />
<line x1="132.7" y1="538.1" x2="104.7" y2="520.18" stroke="#000" stroke-width="0.85" />
<line x1="104.7" y1="514.38" x2="104.7" y2="520.18" stroke="#000" stroke-width="1" />
<polygon points="126.35,539.2 98.35,521.28 98.35,527.08 126.35,545" fill="#fff" stroke="none" stroke-width="1" />
<polygon points="126.35,542 98.35,524.08 98.35,527.08 126.35,545" fill="url(#d)" stroke="none" stroke-width="1" />
<line x1="126.35" y1="539.2" x2="98.35" y2="521.28" stroke="#000" stroke-width="0.85" />
<line x1="126.35" y1="542" x2="98.35" y2="524.08" stroke="#000" stroke-width="0.85" />
<line x1="126.35" y1="545" x2="98.35" y2="527.08" stroke="#000" stroke-width="0.85" />
<line x1="98.35" y1="521.28" x2="98.35" y2="527.08" stroke="#000" stroke-width="1" />
<polygon points="120,546.1 92,528.18 92,533.98 120,551.9" fill="#fff" stroke="none" stroke-width="1" />
<polygon points="120,548.9 92,530.98 92,533.98 120,551.9" fill="url(#d)" stroke="none" stroke-width="1" />
<line x1="120" y1="546.1" x2="92" y2="528.18" stroke="#000" stroke-width="0.85" />
<line x1="120" y1="548.9" x2="92" y2="530.98" stroke="#000" stroke-width="0.85" />
<line x1="120" y1="551.9" x2="92" y2="533.98" stroke="#000" stroke-width="0.85" />
<line x1="92" y1="528.18" x2="92" y2="533.98" stroke="#000" stroke-width="1" />
<polygon points="114.1,548.4 124.5,555.7 124.5,571 114.1,563.7" fill="#fff" stroke="#000" stroke-width="1" />
<polygon points="124.5,555.7 160.3,519.1 160.3,534.4 124.5,571" fill="#fff" stroke="#000" stroke-width="1" />
<polygon points="150.9,512 160.3,519.1 124.5,555.7 114.1,548.4" fill="#fff" stroke="#000" stroke-width="1" />
<polygon points="162.96,539.04 165.16,540.69 165.16,546.19 164.06,547.19 162.96,544.54" fill="#fff" stroke="#000" stroke-width="0.85" />
<polygon points="165.16,540.69 167.56,538.19 167.56,543.69 166.36,547.39 165.16,546.19" fill="#fff" stroke="#000" stroke-width="0.85" />
<polygon points="154.66,534.39 165.16,540.69 165.16,542.69 154.66,536.39" fill="url(#d)" stroke="#000" stroke-width="0.85" />
<polygon points="154.66,534.39 165.16,540.69 167.56,538.19 157.06,531.89" fill="#fff" stroke="#000" stroke-width="0.85" />
<polygon points="170.86,537.78 173.06,539.43 173.06,551.93 171.96,552.93 170.86,550.28" fill="#fff" stroke="#000" stroke-width="0.85" />
<polygon points="173.06,539.43 175.46,536.93 175.46,549.43 174.26,553.13 173.06,551.93" fill="#fff" stroke="#000" stroke-width="0.85" />
<polygon points="154.16,528.09 173.06,539.43 173.06,541.43 154.16,530.09" fill="url(#d)" stroke="#000" stroke-width="0.85" />
<polygon points="154.16,528.09 173.06,539.43 175.46,536.93 156.56,525.59" fill="#fff" stroke="#000" stroke-width="0.85" />
<polygon points="156.51,545.63 158.71,547.28 158.71,552.78 157.61,553.78 156.51,551.13" fill="#fff" stroke="#000" stroke-width="0.85" />
<polygon points="158.71,547.28 161.11,544.78 161.11,550.28 159.91,553.98 158.71,552.78" fill="#fff" stroke="#000" stroke-width="0.85" />
<polygon points="148.21,540.98 158.71,547.28 158.71,549.28 148.21,542.98" fill="url(#d)" stroke="#000" stroke-width="0.85" />
<polygon points="148.21,540.98 158.71,547.28 161.11,544.78 150.61,538.48" fill="#fff" stroke="#000" stroke-width="0.85" />
<polygon points="164.41,544.37 166.61,546.02 166.61,558.52 165.51,559.52 164.41,556.87" fill="#fff" stroke="#000" stroke-width="0.85" />
<polygon points="166.61,546.02 169.01,543.52 169.01,556.02 167.81,559.72 166.61,558.52" fill="#fff" stroke="#000" stroke-width="0.85" />
<polygon points="147.71,534.68 166.61,546.02 166.61,548.02 147.71,536.68" fill="url(#d)" stroke="#000" stroke-width="0.85" />
<polygon points="147.71,534.68 166.61,546.02 169.01,543.52 150.11,532.18" fill="#fff" stroke="#000" stroke-width="0.85" />
<polygon points="150.07,552.21 152.27,553.86 152.27,559.36 151.17,560.36 150.07,557.71" fill="#fff" stroke="#000" stroke-width="0.85" />
<polygon points="152.27,553.86 154.67,551.36 154.67,556.86 153.47,560.56 152.27,559.36" fill="#fff" stroke="#000" stroke-width="0.85" />
<polygon points="141.77,547.56 152.27,553.86 152.27,555.86 141.77,549.56" fill="url(#d)" stroke="#000" stroke-width="0.85" />
<polygon points="141.77,547.56 152.27,553.86 154.67,551.36 144.17,545.06" fill="#fff" stroke="#000" stroke-width="0.85" />
<polygon points="157.97,550.95 160.17,552.6 160.17,565.1 159.07,566.1 157.97,563.45" fill="#fff" stroke="#000" stroke-width="0.85" />
<polygon points="160.17,552.6 162.57,550.1 162.57,562.6 161.37,566.3 160.17,565.1" fill="#fff" stroke="#000" stroke-width="0.85" />
<polygon points="141.27,541.26 160.17,552.6 160.17,554.6 141.27,543.26" fill="url(#d)" stroke="#000" stroke-width="0.85" />
<polygon points="141.27,541.26 160.17,552.6 162.57,550.1 143.67,538.76" fill="#fff" stroke="#000" stroke-width="0.85" />
<polygon points="143.62,558.8 145.82,560.45 145.82,565.95 144.72,566.95 143.62,564.3" fill="#fff" stroke="#000" stroke-width="0.85" />
<polygon points="145.82,560.45 148.22,557.95 148.22,563.45 147.02,567.15 145.82,565.95" fill="#fff" stroke="#000" stroke-width="0.85" />
<polygon points="135.32,554.15 145.82,560.45 145.82,562.45 135.32,556.15" fill="url(#d)" stroke="#000" stroke-width="0.85" />
<polygon points="135.32,554.15 145.82,560.45 148.22,557.95 137.72,551.65" fill="#fff" stroke="#000" stroke-width="0.85" />
<polygon points="151.52,557.54 153.72,559.19 153.72,571.69 152.62,572.69 151.52,570.04" fill="#fff" stroke="#000" stroke-width="0.85" />
<polygon points="153.72,559.19 156.12,556.69 156.12,569.19 154.92,572.89 153.72,571.69" fill="#fff" stroke="#000" stroke-width="0.85" />
<polygon points="134.82,547.85 153.72,559.19 153.72,561.19 134.82,549.85" fill="url(#d)" stroke="#000" stroke-width="0.85" />
<polygon points="134.82,547.85 153.72,559.19 156.12,556.69 137.22,545.35" fill="#fff" stroke="#000" stroke-width="0.85" />
<polygon points="137.18,565.39 139.38,567.04 139.38,572.54 138.28,573.54 137.18,570.89" fill="#fff" stroke="#000" stroke-width="0.85" />
<polygon points="139.38,567.04 141.78,564.54 141.78,570.04 140.58,573.74 139.38,572.54" fill="#fff" stroke="#000" stroke-width="0.85" />
<polygon points="128.88,560.74 139.38,567.04 139.38,569.04 128.88,562.74" fill="url(#d)" stroke="#000" stroke-width="0.85" />
<polygon points="128.88,560.74 139.38,567.04 141.78,564.54 131.28,558.24" fill="#fff" stroke="#000" stroke-width="0.85" />
<polygon points="145.08,564.13 147.28,565.78 147.28,578.28 146.18,579.28 145.08,576.63" fill="#fff" stroke="#000" stroke-width="0.85" />
<polygon points="147.28,565.78 149.68,563.28 149.68,575.78 148.48,579.48 147.28,578.28" fill="#fff" stroke="#000" stroke-width="0.85" />
<polygon points="128.38,554.44 147.28,565.78 147.28,567.78 128.38,556.44" fill="url(#d)" stroke="#000" stroke-width="0.85" />
<polygon points="128.38,554.44 147.28,565.78 149.68,563.28 130.78,551.94" fill="#fff" stroke="#000" stroke-width="0.85" />
<polygon points="152.6,447.5 158.2,458 149.8,451.8" fill="#000" stroke="none"/>
<polygon points="144.6,458.8 148.4,453.7 156.2,461" fill="#000" stroke="none"/>
<polygon points="63.4,596.1 76.1,583.4 76.1,590.9 67.27,598.89" fill="url(#d)" stroke="none" stroke-width="1" />
<line x1="76.1" y1="583.4" x2="76.1" y2="590.9" stroke="#000" stroke-width="1.4" />
<line x1="68.6" y1="594.3" x2="74.1" y2="588.8" stroke="#000" stroke-width="1.3"/>
<polygon points="70.37,601.19 83.07,588.49 83.07,595.99 74.24,603.98" fill="url(#d)" stroke="none" stroke-width="1" />
<line x1="83.07" y1="588.49" x2="83.07" y2="595.99" stroke="#000" stroke-width="1.4" />
<line x1="75.57" y1="599.39" x2="81.07" y2="593.89" stroke="#000" stroke-width="1.3"/>
<polygon points="77.34,606.28 90.04,593.58 90.04,601.08 81.21,609.07" fill="url(#d)" stroke="none" stroke-width="1" />
<line x1="90.04" y1="593.58" x2="90.04" y2="601.08" stroke="#000" stroke-width="1.4" />
<line x1="82.54" y1="604.48" x2="88.04" y2="598.98" stroke="#000" stroke-width="1.3"/>
<polygon points="84.31,611.37 97.01,598.67 97.01,606.17 88.18,614.16" fill="url(#d)" stroke="none" stroke-width="1" />
<line x1="97.01" y1="598.67" x2="97.01" y2="606.17" stroke="#000" stroke-width="1.4" />
<line x1="89.51" y1="609.57" x2="95.01" y2="604.07" stroke="#000" stroke-width="1.3"/>
<polygon points="91.28,616.46 103.98,603.76 103.98,611.26 95.15,619.25" fill="url(#d)" stroke="none" stroke-width="1" />
<line x1="103.98" y1="603.76" x2="103.98" y2="611.26" stroke="#000" stroke-width="1.4" />
<line x1="96.48" y1="614.66" x2="101.98" y2="609.16" stroke="#000" stroke-width="1.3"/>
<polygon points="98.25,621.55 110.95,608.85 110.95,616.35 102.12,624.34" fill="url(#d)" stroke="none" stroke-width="1" />
<line x1="110.95" y1="608.85" x2="110.95" y2="616.35" stroke="#000" stroke-width="1.4" />
<line x1="103.45" y1="619.75" x2="108.95" y2="614.25" stroke="#000" stroke-width="1.3"/>
<polygon points="105.22,626.64 117.92,613.94 117.92,621.44 109.09,629.43" fill="url(#d)" stroke="none" stroke-width="1" />
<line x1="117.92" y1="613.94" x2="117.92" y2="621.44" stroke="#000" stroke-width="1.4" />
<line x1="110.42" y1="624.84" x2="115.92" y2="619.34" stroke="#000" stroke-width="1.3"/>
<polygon points="112.19,631.73 124.89,619.03 124.89,626.53 116.06,634.52" fill="url(#d)" stroke="none" stroke-width="1" />
<line x1="124.89" y1="619.03" x2="124.89" y2="626.53" stroke="#000" stroke-width="1.4" />
<line x1="117.39" y1="629.93" x2="122.89" y2="624.43" stroke="#000" stroke-width="1.3"/>
<polygon points="119.16,636.82 131.86,624.12 131.86,631.62 123.03,639.61" fill="url(#d)" stroke="none" stroke-width="1" />
<line x1="131.86" y1="624.12" x2="131.86" y2="631.62" stroke="#000" stroke-width="1.4" />
<line x1="124.36" y1="635.02" x2="129.86" y2="629.52" stroke="#000" stroke-width="1.3"/>
<polygon points="126.13,641.91 138.83,629.21 138.83,636.71 130,644.7" fill="url(#d)" stroke="none" stroke-width="1" />
<line x1="138.83" y1="629.21" x2="138.83" y2="636.71" stroke="#000" stroke-width="1.4" />
<line x1="131.33" y1="640.11" x2="136.83" y2="634.61" stroke="#000" stroke-width="1.3"/>
<polygon points="133.1,647 145.8,634.3 145.8,641.8 136.97,649.79" fill="url(#d)" stroke="none" stroke-width="1" />
<line x1="145.8" y1="634.3" x2="145.8" y2="641.8" stroke="#000" stroke-width="1.4" />
<line x1="138.3" y1="645.2" x2="143.8" y2="639.7" stroke="#000" stroke-width="1.3"/>
<polygon points="140.07,652.09 152.77,639.39 152.77,646.89 143.94,654.88" fill="url(#d)" stroke="none" stroke-width="1" />
<line x1="152.77" y1="639.39" x2="152.77" y2="646.89" stroke="#000" stroke-width="1.4" />
<line x1="145.27" y1="650.29" x2="150.77" y2="644.79" stroke="#000" stroke-width="1.3"/>
<polygon points="147.04,657.18 159.74,644.48 159.74,651.98 150.91,659.97" fill="url(#d)" stroke="none" stroke-width="1" />
<line x1="159.74" y1="644.48" x2="159.74" y2="651.98" stroke="#000" stroke-width="1.4" />
<line x1="152.24" y1="655.38" x2="157.74" y2="649.88" stroke="#000" stroke-width="1.3"/>
<polygon points="154.01,662.27 166.71,649.57 166.71,657.07 157.88,665.06" fill="url(#d)" stroke="none" stroke-width="1" />
<line x1="166.71" y1="649.57" x2="166.71" y2="657.07" stroke="#000" stroke-width="1.4" />
<line x1="159.21" y1="660.47" x2="164.71" y2="654.97" stroke="#000" stroke-width="1.3"/>
<polygon points="160.98,667.36 173.68,654.66 173.68,662.16 164.85,670.15" fill="url(#d)" stroke="none" stroke-width="1" />
<line x1="173.68" y1="654.66" x2="173.68" y2="662.16" stroke="#000" stroke-width="1.4" />
<line x1="166.18" y1="665.56" x2="171.68" y2="660.06" stroke="#000" stroke-width="1.3"/>
<polygon points="167.95,672.45 180.65,659.75 180.65,667.25 171.82,675.24" fill="url(#d)" stroke="none" stroke-width="1" />
<line x1="180.65" y1="659.75" x2="180.65" y2="667.25" stroke="#000" stroke-width="1.4" />
<line x1="173.15" y1="670.65" x2="178.65" y2="665.15" stroke="#000" stroke-width="1.3"/>
<polygon points="174.92,677.54 187.62,664.84 187.62,672.34 178.79,680.33" fill="url(#d)" stroke="none" stroke-width="1" />
<line x1="187.62" y1="664.84" x2="187.62" y2="672.34" stroke="#000" stroke-width="1.4" />
<line x1="180.12" y1="675.74" x2="185.62" y2="670.24" stroke="#000" stroke-width="1.3"/>
<polygon points="181.89,682.63 194.59,669.93 194.59,677.43 185.76,685.42" fill="url(#d)" stroke="none" stroke-width="1" />
<line x1="194.59" y1="669.93" x2="194.59" y2="677.43" stroke="#000" stroke-width="1.4" />
<line x1="187.09" y1="680.83" x2="192.59" y2="675.33" stroke="#000" stroke-width="1.3"/>
<polygon points="188.86,687.72 201.56,675.02 201.56,682.52 192.73,690.51" fill="url(#d)" stroke="none" stroke-width="1" />
<line x1="201.56" y1="675.02" x2="201.56" y2="682.52" stroke="#000" stroke-width="1.4" />
<line x1="194.06" y1="685.92" x2="199.56" y2="680.42" stroke="#000" stroke-width="1.3"/>
<polygon points="195.83,692.81 208.53,680.11 208.53,687.61 199.7,695.6" fill="url(#d)" stroke="none" stroke-width="1" />
<line x1="208.53" y1="680.11" x2="208.53" y2="687.61" stroke="#000" stroke-width="1.4" />
<line x1="201.03" y1="691.01" x2="206.53" y2="685.51" stroke="#000" stroke-width="1.3"/>
<polygon points="202.8,697.9 215.5,685.2 215.5,692.7 206.67,700.69" fill="url(#d)" stroke="none" stroke-width="1" />
<line x1="215.5" y1="685.2" x2="215.5" y2="692.7" stroke="#000" stroke-width="1.4" />
<line x1="208" y1="696.1" x2="213.5" y2="690.6" stroke="#000" stroke-width="1.3"/>
<polygon points="209.77,702.99 222.47,690.29 222.47,697.79 213.64,705.78" fill="url(#d)" stroke="none" stroke-width="1" />
<line x1="222.47" y1="690.29" x2="222.47" y2="697.79" stroke="#000" stroke-width="1.4" />
<line x1="214.97" y1="701.19" x2="220.47" y2="695.69" stroke="#000" stroke-width="1.3"/>
<polygon points="216.74,708.08 229.44,695.38 229.44,702.88 220.61,710.87" fill="url(#d)" stroke="none" stroke-width="1" />
<line x1="229.44" y1="695.38" x2="229.44" y2="702.88" stroke="#000" stroke-width="1.4" />
<line x1="221.94" y1="706.28" x2="227.44" y2="700.78" stroke="#000" stroke-width="1.3"/>
<polygon points="223.71,713.17 236.41,700.47 236.41,707.97 227.58,715.96" fill="url(#d)" stroke="none" stroke-width="1" />
<line x1="236.41" y1="700.47" x2="236.41" y2="707.97" stroke="#000" stroke-width="1.4" />
<line x1="228.91" y1="711.37" x2="234.41" y2="705.87" stroke="#000" stroke-width="1.3"/>
<polygon points="60.3,593.8 73,581.1 76.1,583.4 63.4,596.1" fill="#fff" stroke="#000" stroke-width="1" />
<polygon points="67.27,598.89 79.97,586.19 83.07,588.49 70.37,601.19" fill="#fff" stroke="#000" stroke-width="1" />
<polygon points="74.24,603.98 86.94,591.28 90.04,593.58 77.34,606.28" fill="#fff" stroke="#000" stroke-width="1" />
<polygon points="81.21,609.07 93.91,596.37 97.01,598.67 84.31,611.37" fill="#fff" stroke="#000" stroke-width="1" />
<polygon points="88.18,614.16 100.88,601.46 103.98,603.76 91.28,616.46" fill="#fff" stroke="#000" stroke-width="1" />
<polygon points="95.15,619.25 107.85,606.55 110.95,608.85 98.25,621.55" fill="#fff" stroke="#000" stroke-width="1" />
<polygon points="102.12,624.34 114.82,611.64 117.92,613.94 105.22,626.64" fill="#fff" stroke="#000" stroke-width="1" />
<polygon points="109.09,629.43 121.79,616.73 124.89,619.03 112.19,631.73" fill="#fff" stroke="#000" stroke-width="1" />
<polygon points="116.06,634.52 128.76,621.82 131.86,624.12 119.16,636.82" fill="#fff" stroke="#000" stroke-width="1" />
<polygon points="123.03,639.61 135.73,626.91 138.83,629.21 126.13,641.91" fill="#fff" stroke="#000" stroke-width="1" />
<polygon points="130,644.7 142.7,632 145.8,634.3 133.1,647" fill="#fff" stroke="#000" stroke-width="1" />
<polygon points="136.97,649.79 149.67,637.09 152.77,639.39 140.07,652.09" fill="#fff" stroke="#000" stroke-width="1" />
<polygon points="143.94,654.88 156.64,642.18 159.74,644.48 147.04,657.18" fill="#fff" stroke="#000" stroke-width="1" />
<polygon points="150.91,659.97 163.61,647.27 166.71,649.57 154.01,662.27" fill="#fff" stroke="#000" stroke-width="1" />
<polygon points="157.88,665.06 170.58,652.36 173.68,654.66 160.98,667.36" fill="#fff" stroke="#000" stroke-width="1" />
<polygon points="164.85,670.15 177.55,657.45 180.65,659.75 167.95,672.45" fill="#fff" stroke="#000" stroke-width="1" />
<polygon points="171.82,675.24 184.52,662.54 187.62,664.84 174.92,677.54" fill="#fff" stroke="#000" stroke-width="1" />
<polygon points="178.79,680.33 191.49,667.63 194.59,669.93 181.89,682.63" fill="#fff" stroke="#000" stroke-width="1" />
<polygon points="185.76,685.42 198.46,672.72 201.56,675.02 188.86,687.72" fill="#fff" stroke="#000" stroke-width="1" />
<polygon points="192.73,690.51 205.43,677.81 208.53,680.11 195.83,692.81" fill="#fff" stroke="#000" stroke-width="1" />
<polygon points="199.7,695.6 212.4,682.9 215.5,685.2 202.8,697.9" fill="#fff" stroke="#000" stroke-width="1" />
<polygon points="206.67,700.69 219.37,687.99 222.47,690.29 209.77,702.99" fill="#fff" stroke="#000" stroke-width="1" />
<polygon points="213.64,705.78 226.34,693.08 229.44,695.38 216.74,708.08" fill="#fff" stroke="#000" stroke-width="1" />
<polygon points="220.61,710.87 233.31,698.17 236.41,700.47 223.71,713.17" fill="#fff" stroke="#000" stroke-width="1" />
<polygon points="23.3,613.5 199.9,739.8 199.9,757.3 23.3,633.1" fill="#fff" stroke="#000" stroke-width="1" />
<polygon points="199.9,739.8 227.3,711.7 227.3,729.2 199.9,757.3" fill="#fff" stroke="#000" stroke-width="1" />
<polygon points="51.9,583.7 227.3,711.7 199.9,739.8 23.3,613.5" fill="#fff" stroke="#000" stroke-width="1" />
<line x1="23.3" y1="633.1" x2="33.3" y2="620.8" stroke="#000" stroke-width="1" />
<polygon points="36,623 38.6,624.9 34.3,630.2 31.7,630.8" fill="url(#d)" stroke="none" stroke-width="1" />
<polygon points="33.8,621.4 36,623 31.7,630.8 29.5,629.2" fill="#fff" stroke="#000" stroke-width="0.85" />
<polygon points="29.5,629.2 31.7,630.8 31.7,632.8 29.5,631.2" fill="#000" stroke="#000" stroke-width="0.85" />
<polygon points="42.85,628 45.45,629.9 41.15,635.2 38.55,635.8" fill="url(#d)" stroke="none" stroke-width="1" />
<polygon points="40.65,626.4 42.85,628 38.55,635.8 36.35,634.2" fill="#fff" stroke="#000" stroke-width="0.85" />
<polygon points="36.35,634.2 38.55,635.8 38.55,637.8 36.35,636.2" fill="#000" stroke="#000" stroke-width="0.85" />
<polygon points="49.7,633 52.3,634.9 48,640.2 45.4,640.8" fill="url(#d)" stroke="none" stroke-width="1" />
<polygon points="47.5,631.4 49.7,633 45.4,640.8 43.2,639.2" fill="#fff" stroke="#000" stroke-width="0.85" />
<polygon points="43.2,639.2 45.4,640.8 45.4,642.8 43.2,641.2" fill="#000" stroke="#000" stroke-width="0.85" />
<polygon points="56.55,638 59.15,639.9 54.85,645.2 52.25,645.8" fill="url(#d)" stroke="none" stroke-width="1" />
<polygon points="54.35,636.4 56.55,638 52.25,645.8 50.05,644.2" fill="#fff" stroke="#000" stroke-width="0.85" />
<polygon points="50.05,644.2 52.25,645.8 52.25,647.8 50.05,646.2" fill="#000" stroke="#000" stroke-width="0.85" />
<polygon points="63.4,643 66,644.9 61.7,650.2 59.1,650.8" fill="url(#d)" stroke="none" stroke-width="1" />
<polygon points="61.2,641.4 63.4,643 59.1,650.8 56.9,649.2" fill="#fff" stroke="#000" stroke-width="0.85" />
<polygon points="56.9,649.2 59.1,650.8 59.1,652.8 56.9,651.2" fill="#000" stroke="#000" stroke-width="0.85" />
<polygon points="70.25,648 72.85,649.9 68.55,655.2 65.95,655.8" fill="url(#d)" stroke="none" stroke-width="1" />
<polygon points="68.05,646.4 70.25,648 65.95,655.8 63.75,654.2" fill="#fff" stroke="#000" stroke-width="0.85" />
<polygon points="63.75,654.2 65.95,655.8 65.95,657.8 63.75,656.2" fill="#000" stroke="#000" stroke-width="0.85" />
<polygon points="77.1,653 79.7,654.9 75.4,660.2 72.8,660.8" fill="url(#d)" stroke="none" stroke-width="1" />
<polygon points="74.9,651.4 77.1,653 72.8,660.8 70.6,659.2" fill="#fff" stroke="#000" stroke-width="0.85" />
<polygon points="70.6,659.2 72.8,660.8 72.8,662.8 70.6,661.2" fill="#000" stroke="#000" stroke-width="0.85" />
<polygon points="83.95,658 86.55,659.9 82.25,665.2 79.65,665.8" fill="url(#d)" stroke="none" stroke-width="1" />
<polygon points="81.75,656.4 83.95,658 79.65,665.8 77.45,664.2" fill="#fff" stroke="#000" stroke-width="0.85" />
<polygon points="77.45,664.2 79.65,665.8 79.65,667.8 77.45,666.2" fill="#000" stroke="#000" stroke-width="0.85" />
<polygon points="90.8,663 93.4,664.9 89.1,670.2 86.5,670.8" fill="url(#d)" stroke="none" stroke-width="1" />
<polygon points="88.6,661.4 90.8,663 86.5,670.8 84.3,669.2" fill="#fff" stroke="#000" stroke-width="0.85" />
<polygon points="84.3,669.2 86.5,670.8 86.5,672.8 84.3,671.2" fill="#000" stroke="#000" stroke-width="0.85" />
<polygon points="97.65,668 100.25,669.9 95.95,675.2 93.35,675.8" fill="url(#d)" stroke="none" stroke-width="1" />
<polygon points="95.45,666.4 97.65,668 93.35,675.8 91.15,674.2" fill="#fff" stroke="#000" stroke-width="0.85" />
<polygon points="91.15,674.2 93.35,675.8 93.35,677.8 91.15,676.2" fill="#000" stroke="#000" stroke-width="0.85" />
<polygon points="104.5,673 107.1,674.9 102.8,680.2 100.2,680.8" fill="url(#d)" stroke="none" stroke-width="1" />
<polygon points="102.3,671.4 104.5,673 100.2,680.8 98,679.2" fill="#fff" stroke="#000" stroke-width="0.85" />
<polygon points="98,679.2 100.2,680.8 100.2,682.8 98,681.2" fill="#000" stroke="#000" stroke-width="0.85" />
<polygon points="111.35,678 113.95,679.9 109.65,685.2 107.05,685.8" fill="url(#d)" stroke="none" stroke-width="1" />
<polygon points="109.15,676.4 111.35,678 107.05,685.8 104.85,684.2" fill="#fff" stroke="#000" stroke-width="0.85" />
<polygon points="104.85,684.2 107.05,685.8 107.05,687.8 104.85,686.2" fill="#000" stroke="#000" stroke-width="0.85" />
<polygon points="118.2,683 120.8,684.9 116.5,690.2 113.9,690.8" fill="url(#d)" stroke="none" stroke-width="1" />
<polygon points="116,681.4 118.2,683 113.9,690.8 111.7,689.2" fill="#fff" stroke="#000" stroke-width="0.85" />
<polygon points="111.7,689.2 113.9,690.8 113.9,692.8 111.7,691.2" fill="#000" stroke="#000" stroke-width="0.85" />
<polygon points="125.05,688 127.65,689.9 123.35,695.2 120.75,695.8" fill="url(#d)" stroke="none" stroke-width="1" />
<polygon points="122.85,686.4 125.05,688 120.75,695.8 118.55,694.2" fill="#fff" stroke="#000" stroke-width="0.85" />
<polygon points="118.55,694.2 120.75,695.8 120.75,697.8 118.55,696.2" fill="#000" stroke="#000" stroke-width="0.85" />
<polygon points="131.9,693 134.5,694.9 130.2,700.2 127.6,700.8" fill="url(#d)" stroke="none" stroke-width="1" />
<polygon points="129.7,691.4 131.9,693 127.6,700.8 125.4,699.2" fill="#fff" stroke="#000" stroke-width="0.85" />
<polygon points="125.4,699.2 127.6,700.8 127.6,702.8 125.4,701.2" fill="#000" stroke="#000" stroke-width="0.85" />
<polygon points="138.75,698 141.35,699.9 137.05,705.2 134.45,705.8" fill="url(#d)" stroke="none" stroke-width="1" />
<polygon points="136.55,696.4 138.75,698 134.45,705.8 132.25,704.2" fill="#fff" stroke="#000" stroke-width="0.85" />
<polygon points="132.25,704.2 134.45,705.8 134.45,707.8 132.25,706.2" fill="#000" stroke="#000" stroke-width="0.85" />
<polygon points="145.6,703 148.2,704.9 143.9,710.2 141.3,710.8" fill="url(#d)" stroke="none" stroke-width="1" />
<polygon points="143.4,701.4 145.6,703 141.3,710.8 139.1,709.2" fill="#fff" stroke="#000" stroke-width="0.85" />
<polygon points="139.1,709.2 141.3,710.8 141.3,712.8 139.1,711.2" fill="#000" stroke="#000" stroke-width="0.85" />
<polygon points="152.45,708 155.05,709.9 150.75,715.2 148.15,715.8" fill="url(#d)" stroke="none" stroke-width="1" />
<polygon points="150.25,706.4 152.45,708 148.15,715.8 145.95,714.2" fill="#fff" stroke="#000" stroke-width="0.85" />
<polygon points="145.95,714.2 148.15,715.8 148.15,717.8 145.95,716.2" fill="#000" stroke="#000" stroke-width="0.85" />
<polygon points="159.3,713 161.9,714.9 157.6,720.2 155,720.8" fill="url(#d)" stroke="none" stroke-width="1" />
<polygon points="157.1,711.4 159.3,713 155,720.8 152.8,719.2" fill="#fff" stroke="#000" stroke-width="0.85" />
<polygon points="152.8,719.2 155,720.8 155,722.8 152.8,721.2" fill="#000" stroke="#000" stroke-width="0.85" />
<polygon points="166.15,718 168.75,719.9 164.45,725.2 161.85,725.8" fill="url(#d)" stroke="none" stroke-width="1" />
<polygon points="163.95,716.4 166.15,718 161.85,725.8 159.65,724.2" fill="#fff" stroke="#000" stroke-width="0.85" />
<polygon points="159.65,724.2 161.85,725.8 161.85,727.8 159.65,726.2" fill="#000" stroke="#000" stroke-width="0.85" />
<polygon points="173,723 175.6,724.9 171.3,730.2 168.7,730.8" fill="url(#d)" stroke="none" stroke-width="1" />
<polygon points="170.8,721.4 173,723 168.7,730.8 166.5,729.2" fill="#fff" stroke="#000" stroke-width="0.85" />
<polygon points="166.5,729.2 168.7,730.8 168.7,732.8 166.5,731.2" fill="#000" stroke="#000" stroke-width="0.85" />
<polygon points="179.85,728 182.45,729.9 178.15,735.2 175.55,735.8" fill="url(#d)" stroke="none" stroke-width="1" />
<polygon points="177.65,726.4 179.85,728 175.55,735.8 173.35,734.2" fill="#fff" stroke="#000" stroke-width="0.85" />
<polygon points="173.35,734.2 175.55,735.8 175.55,737.8 173.35,736.2" fill="#000" stroke="#000" stroke-width="0.85" />
<polygon points="186.7,733 189.3,734.9 185,740.2 182.4,740.8" fill="url(#d)" stroke="none" stroke-width="1" />
<polygon points="184.5,731.4 186.7,733 182.4,740.8 180.2,739.2" fill="#fff" stroke="#000" stroke-width="0.85" />
<polygon points="180.2,739.2 182.4,740.8 182.4,742.8 180.2,741.2" fill="#000" stroke="#000" stroke-width="0.85" />
<polygon points="193.55,738 196.15,739.9 191.85,745.2 189.25,745.8" fill="url(#d)" stroke="none" stroke-width="1" />
<polygon points="191.35,736.4 193.55,738 189.25,745.8 187.05,744.2" fill="#fff" stroke="#000" stroke-width="0.85" />
<polygon points="187.05,744.2 189.25,745.8 189.25,747.8 187.05,746.2" fill="#000" stroke="#000" stroke-width="0.85" />
<polygon points="200.4,743 203,744.9 198.7,750.2 196.1,750.8" fill="url(#d)" stroke="none" stroke-width="1" />
<polygon points="198.2,741.4 200.4,743 196.1,750.8 193.9,749.2" fill="#fff" stroke="#000" stroke-width="0.85" />
<polygon points="193.9,749.2 196.1,750.8 196.1,752.8 193.9,751.2" fill="#000" stroke="#000" stroke-width="0.85" />
<line x1="23.3" y1="631.1" x2="199.9" y2="755.3" stroke="#000" stroke-width="1" />
<line x1="24.8" y1="629.7" x2="198.9" y2="753.4" stroke="#000" stroke-width="1" stroke-dasharray="2 1"/>
<polygon points="213.6,750.5 263.4,785.9 263.4,804.9 213.6,770.1" fill="#fff" stroke="#000" stroke-width="1" />
<polygon points="263.4,785.9 289.6,759.1 289.6,780.1 263.4,804.9" fill="#fff" stroke="#000" stroke-width="1" />
<polygon points="239.6,724.3 289.6,759.1 263.4,785.9 213.6,750.5" fill="#fff" stroke="#000" stroke-width="1" />
<line x1="213.6" y1="770.1" x2="263.4" y2="804.9" stroke="#000" stroke-width="2" />
<line x1="213.6" y1="770.1" x2="219.6" y2="763" stroke="#000" stroke-width="1" />
<polygon points="219.3,762.7 224.7,766.5 224.7,771.3 219.3,767.5" fill="#fff" stroke="#000" stroke-width="1" />
<polygon points="224.7,766.5 228.1,762.9 228.1,767.7 224.7,771.3" fill="#fff" stroke="#000" stroke-width="1" />
<polygon points="219.3,762.7 222.7,759.1 228.1,762.9 224.7,766.5" fill="#fff" stroke="#000" stroke-width="1" />
<polygon points="229.4,771 234.8,774.8 234.8,779.6 229.4,775.8" fill="#fff" stroke="#000" stroke-width="1" />
<polygon points="234.8,774.8 238.2,771.2 238.2,776 234.8,779.6" fill="#fff" stroke="#000" stroke-width="1" />
<polygon points="229.4,771 232.8,767.4 238.2,771.2 234.8,774.8" fill="#fff" stroke="#000" stroke-width="1" />
<polygon points="239.6,778.8 245,782.6 245,787.4 239.6,783.6" fill="#fff" stroke="#000" stroke-width="1" />
<polygon points="245,782.6 248.4,779 248.4,783.8 245,787.4" fill="#fff" stroke="#000" stroke-width="1" />
<polygon points="239.6,778.8 243,775.2 248.4,779 245,782.6" fill="#fff" stroke="#000" stroke-width="1" />
<polygon points="251.5,787.7 256.9,791.5 256.9,796.3 251.5,792.5" fill="#fff" stroke="#000" stroke-width="1" />
<polygon points="256.9,791.5 260.3,787.9 260.3,792.7 256.9,796.3" fill="#fff" stroke="#000" stroke-width="1" />
<polygon points="251.5,787.7 254.9,784.1 260.3,787.9 256.9,791.5" fill="#fff" stroke="#000" stroke-width="1" />
<polygon points="317,781.3 329.7,768.6 329.7,778.1 320.8,784.2" fill="url(#d)" stroke="none" stroke-width="1" />
<line x1="329.7" y1="768.6" x2="329.7" y2="778.1" stroke="#000" stroke-width="1.4" />
<line x1="322.2" y1="779.5" x2="327.7" y2="774" stroke="#000" stroke-width="1.3"/>
<polygon points="323.9,786.5 336.6,773.8 336.6,783.3 327.7,789.4" fill="url(#d)" stroke="none" stroke-width="1" />
<line x1="336.6" y1="773.8" x2="336.6" y2="783.3" stroke="#000" stroke-width="1.4" />
<line x1="329.1" y1="784.7" x2="334.6" y2="779.2" stroke="#000" stroke-width="1.3"/>
<polygon points="330.8,791.7 343.5,779 343.5,788.5 334.6,794.6" fill="url(#d)" stroke="none" stroke-width="1" />
<line x1="343.5" y1="779" x2="343.5" y2="788.5" stroke="#000" stroke-width="1.4" />
<line x1="336" y1="789.9" x2="341.5" y2="784.4" stroke="#000" stroke-width="1.3"/>
<polygon points="337.7,796.9 350.4,784.2 350.4,793.7 341.5,799.8" fill="url(#d)" stroke="none" stroke-width="1" />
<line x1="350.4" y1="784.2" x2="350.4" y2="793.7" stroke="#000" stroke-width="1.4" />
<line x1="342.9" y1="795.1" x2="348.4" y2="789.6" stroke="#000" stroke-width="1.3"/>
<polygon points="344.6,802.1 357.3,789.4 357.3,798.9 348.4,805" fill="url(#d)" stroke="none" stroke-width="1" />
<line x1="357.3" y1="789.4" x2="357.3" y2="798.9" stroke="#000" stroke-width="1.4" />
<line x1="349.8" y1="800.3" x2="355.3" y2="794.8" stroke="#000" stroke-width="1.3"/>
<polygon points="351.5,807.3 364.2,794.6 364.2,804.1 355.3,810.2" fill="url(#d)" stroke="none" stroke-width="1" />
<line x1="364.2" y1="794.6" x2="364.2" y2="804.1" stroke="#000" stroke-width="1.4" />
<line x1="356.7" y1="805.5" x2="362.2" y2="800" stroke="#000" stroke-width="1.3"/>
<polygon points="358.4,812.5 371.1,799.8 371.1,809.3 362.2,815.4" fill="url(#d)" stroke="none" stroke-width="1" />
<line x1="371.1" y1="799.8" x2="371.1" y2="809.3" stroke="#000" stroke-width="1.4" />
<line x1="363.6" y1="810.7" x2="369.1" y2="805.2" stroke="#000" stroke-width="1.3"/>
<polygon points="313.9,779 326.6,766.3 329.7,768.6 317,781.3" fill="#fff" stroke="#000" stroke-width="1" />
<polygon points="320.8,784.2 333.5,771.5 336.6,773.8 323.9,786.5" fill="#fff" stroke="#000" stroke-width="1" />
<polygon points="327.7,789.4 340.4,776.7 343.5,779 330.8,791.7" fill="#fff" stroke="#000" stroke-width="1" />
<polygon points="334.6,794.6 347.3,781.9 350.4,784.2 337.7,796.9" fill="#fff" stroke="#000" stroke-width="1" />
<polygon points="341.5,799.8 354.2,787.1 357.3,789.4 344.6,802.1" fill="#fff" stroke="#000" stroke-width="1" />
<polygon points="348.4,805 361.1,792.3 364.2,794.6 351.5,807.3" fill="#fff" stroke="#000" stroke-width="1" />
<polygon points="355.3,810.2 368,797.5 371.1,799.8 358.4,812.5" fill="#fff" stroke="#000" stroke-width="1" />
<polygon points="279.7,802.8 331.1,840 331.1,853.9 279.7,815.2" fill="#fff" stroke="#000" stroke-width="1" />
<polygon points="331.1,840 359.7,811.1 359.7,825 331.1,853.9" fill="#fff" stroke="#000" stroke-width="1" />
<polygon points="307.5,771.7 359.7,811.1 331.1,840 279.7,802.8" fill="#fff" stroke="#000" stroke-width="1" />
<polygon points="289.4,809.9 292,811.8 289.2,813.9 286.6,814.5" fill="url(#d)" stroke="none" stroke-width="1" />
<polygon points="287.2,808.3 289.4,809.9 286.6,814.5 284.4,812.9" fill="#fff" stroke="#000" stroke-width="0.85" />
<polygon points="284.4,812.9 286.6,814.5 286.6,816.5 284.4,814.9" fill="#000" stroke="#000" stroke-width="0.85" />
<polygon points="296,814.8 298.6,816.7 295.8,818.8 293.2,819.4" fill="url(#d)" stroke="none" stroke-width="1" />
<polygon points="293.8,813.2 296,814.8 293.2,819.4 291,817.8" fill="#fff" stroke="#000" stroke-width="0.85" />
<polygon points="291,817.8 293.2,819.4 293.2,821.4 291,819.8" fill="#000" stroke="#000" stroke-width="0.85" />
<polygon points="302.6,819.7 305.2,821.6 302.4,823.7 299.8,824.3" fill="url(#d)" stroke="none" stroke-width="1" />
<polygon points="300.4,818.1 302.6,819.7 299.8,824.3 297.6,822.7" fill="#fff" stroke="#000" stroke-width="0.85" />
<polygon points="297.6,822.7 299.8,824.3 299.8,826.3 297.6,824.7" fill="#000" stroke="#000" stroke-width="0.85" />
<polygon points="309.2,824.6 311.8,826.5 309,828.6 306.4,829.2" fill="url(#d)" stroke="none" stroke-width="1" />
<polygon points="307,823 309.2,824.6 306.4,829.2 304.2,827.6" fill="#fff" stroke="#000" stroke-width="0.85" />
<polygon points="304.2,827.6 306.4,829.2 306.4,831.2 304.2,829.6" fill="#000" stroke="#000" stroke-width="0.85" />
<polygon points="315.8,829.5 318.4,831.4 315.6,833.5 313,834.1" fill="url(#d)" stroke="none" stroke-width="1" />
<polygon points="313.6,827.9 315.8,829.5 313,834.1 310.8,832.5" fill="#fff" stroke="#000" stroke-width="0.85" />
<polygon points="310.8,832.5 313,834.1 313,836.1 310.8,834.5" fill="#000" stroke="#000" stroke-width="0.85" />
<polygon points="322.4,834.4 325,836.3 322.2,838.4 319.6,839" fill="url(#d)" stroke="none" stroke-width="1" />
<polygon points="320.2,832.8 322.4,834.4 319.6,839 317.4,837.4" fill="#fff" stroke="#000" stroke-width="0.85" />
<polygon points="317.4,837.4 319.6,839 319.6,841 317.4,839.4" fill="#000" stroke="#000" stroke-width="0.85" />
<polygon points="329,839.3 331.6,841.2 328.8,843.3 326.2,843.9" fill="url(#d)" stroke="none" stroke-width="1" />
<polygon points="326.8,837.7 329,839.3 326.2,843.9 324,842.3" fill="#fff" stroke="#000" stroke-width="0.85" />
<polygon points="324,842.3 326.2,843.9 326.2,845.9 324,844.3" fill="#000" stroke="#000" stroke-width="0.85" />
<line x1="279.7" y1="813.7" x2="331.1" y2="852.4" stroke="#000" stroke-width="1" />
<line x1="280.7" y1="812.4" x2="330.1" y2="850.9" stroke="#000" stroke-width="1" stroke-dasharray="1 1"/>
<line x1="351.3" y1="722.9" x2="351.3" y2="878" stroke="#000" stroke-width="1" />
<polygon points="794.5,280 794.39,283.4 794.05,286.64 793.49,289.82 792.7,292.94 791.7,296.03 790.47,299.08 789.02,302.08 787.35,305.05 785.46,307.97 783.36,310.86 781.05,313.69 778.52,316.48 775.79,319.22 772.85,321.9 769.72,324.53 766.38,327.1 762.85,329.62 759.13,332.06 755.23,334.45 751.14,336.76 746.87,339.01 742.43,341.18 737.82,343.28 733.05,345.31 728.12,347.25 723.04,349.11 717.8,350.89 712.43,352.59 706.91,354.19 701.26,355.71 695.49,357.14 689.6,358.48 683.59,359.72 677.47,360.87 671.24,361.93 664.91,362.88 658.49,363.74 651.98,364.5 645.38,365.16 638.69,365.72 631.92,366.18 625.05,366.54 618.08,366.8 610.97,366.95 603.5,367 596.83,366.95 590.18,366.79 583.54,366.52 576.92,366.15 570.33,365.68 563.79,365.1 557.29,364.42 550.85,363.63 544.48,362.74 538.17,361.75 531.95,360.66 525.81,359.48 519.77,358.2 513.83,356.82 508,355.34 502.29,353.78 496.69,352.13 491.23,350.38 485.91,348.56 480.73,346.65 475.7,344.65 470.82,342.58 466.11,340.44 461.56,338.21 457.19,335.92 452.99,333.56 448.98,331.14 445.15,328.65 441.52,326.1 438.09,323.5 434.86,320.84 431.83,318.14 429.01,315.39 426.41,312.59 424.02,309.76 421.85,306.88 419.9,303.98 418.17,301.05 416.67,298.09 415.4,295.11 414.36,292.11 413.55,289.09 412.97,286.07 412.62,283.04 412.5,280 412.61,276.81 412.96,273.69 413.53,270.6 414.33,267.53 415.36,264.5 416.61,261.49 418.09,258.51 419.79,255.56 421.71,252.64 423.85,249.77 426.21,246.93 428.78,244.14 431.56,241.39 434.55,238.7 437.74,236.05 441.13,233.46 444.71,230.93 448.49,228.46 452.46,226.05 456.61,223.71 460.94,221.44 465.44,219.24 470.1,217.11 474.93,215.06 479.92,213.09 485.06,211.2 490.35,209.39 495.77,207.67 501.33,206.04 507.02,204.5 512.82,203.04 518.74,201.68 524.77,200.42 530.9,199.24 537.13,198.17 543.44,197.2 549.84,196.32 556.31,195.55 562.86,194.87 569.46,194.3 576.13,193.83 582.86,193.47 589.64,193.21 596.5,193.05 603.5,193 610.85,193.05 617.9,193.21 624.82,193.46 631.65,193.82 638.4,194.28 645.07,194.85 651.66,195.51 658.16,196.27 664.58,197.14 670.9,198.1 677.13,199.16 683.25,200.31 689.26,201.56 695.17,202.9 700.95,204.34 706.6,205.86 712.13,207.48 717.52,209.18 722.76,210.97 727.86,212.83 732.81,214.78 737.6,216.81 742.22,218.92 746.67,221.1 750.95,223.35 755.06,225.68 758.98,228.07 762.71,230.52 766.26,233.04 769.61,235.61 772.76,238.25 775.7,240.93 778.45,243.67 780.98,246.46 783.31,249.3 785.42,252.18 787.31,255.1 788.99,258.06 790.45,261.06 791.68,264.1 792.7,267.18 793.48,270.29 794.05,273.44 794.39,276.65" fill="#fff" stroke="#000" stroke-width="1" />
<rect x="455.5" y="267.5" width="307" height="47" fill="#fff" stroke="#000"/>
<rect x="462" y="272" width="15" height="15" fill="#000"/>
<rect x="462" y="294" width="15" height="15" fill="#000"/>
<rect x="485.33" y="272" width="15" height="15" fill="#000"/>
<rect x="485.33" y="294" width="15" height="15" fill="#000"/>
<rect x="508.66" y="272" width="15" height="15" fill="#000"/>
<rect x="508.66" y="294" width="15" height="15" fill="#000"/>
<rect x="531.99" y="272" width="15" height="15" fill="#000"/>
<rect x="531.99" y="294" width="15" height="15" fill="#000"/>
<rect x="555.32" y="272" width="15" height="15" fill="#000"/>
<rect x="555.32" y="294" width="15" height="15" fill="#000"/>
<rect x="578.65" y="272" width="15" height="15" fill="#000"/>
<rect x="578.65" y="294" width="15" height="15" fill="#000"/>
<rect x="601.98" y="272" width="15" height="15" fill="#000"/>
<rect x="601.98" y="294" width="15" height="15" fill="#000"/>
<rect x="625.31" y="272" width="15" height="15" fill="#000"/>
<rect x="625.31" y="294" width="15" height="15" fill="#000"/>
<rect x="648.64" y="272" width="15" height="15" fill="#000"/>
<rect x="648.64" y="294" width="15" height="15" fill="#000"/>
<rect x="671.97" y="272" width="15" height="15" fill="#000"/>
<rect x="671.97" y="294" width="15" height="15" fill="#000"/>
<rect x="695.3" y="272" width="15" height="15" fill="#000"/>
<rect x="695.3" y="294" width="15" height="15" fill="#000"/>
<rect x="718.63" y="272" width="15" height="15" fill="#000"/>
<rect x="718.63" y="294" width="15" height="15" fill="#000"/>
<rect x="742.46" y="272.5" width="14" height="14" fill="#fff" stroke="#000"/>
<rect x="741.96" y="294" width="15" height="15" fill="#000"/>
<text transform="translate(537.5,222.7) scale(1.0,1)" font-size="14" text-anchor="start" textLength="146" lengthAdjust="spacing" >Detail of JP1 or JP2</text>
<text transform="translate(461.5,260.3) scale(1.0,1)" font-size="13.5" text-anchor="start" textLength="16" lengthAdjust="spacing" >25</text>
<text transform="translate(461.5,330.3) scale(1.0,1)" font-size="13.5" text-anchor="start" textLength="16" lengthAdjust="spacing" >26</text>
<text transform="translate(484.83,260.3) scale(1.0,1)" font-size="13.5" text-anchor="start" textLength="16" lengthAdjust="spacing" >23</text>
<text transform="translate(484.83,330.3) scale(1.0,1)" font-size="13.5" text-anchor="start" textLength="16" lengthAdjust="spacing" >24</text>
<text transform="translate(508.16,260.3) scale(1.0,1)" font-size="13.5" text-anchor="start" textLength="16" lengthAdjust="spacing" >21</text>
<text transform="translate(508.16,330.3) scale(1.0,1)" font-size="13.5" text-anchor="start" textLength="16" lengthAdjust="spacing" >22</text>
<text transform="translate(531.49,260.3) scale(1.0,1)" font-size="13.5" text-anchor="start" textLength="16" lengthAdjust="spacing" >19</text>
<text transform="translate(531.49,330.3) scale(1.0,1)" font-size="13.5" text-anchor="start" textLength="16" lengthAdjust="spacing" >20</text>
<text transform="translate(554.82,260.3) scale(1.0,1)" font-size="13.5" text-anchor="start" textLength="16" lengthAdjust="spacing" >17</text>
<text transform="translate(554.82,330.3) scale(1.0,1)" font-size="13.5" text-anchor="start" textLength="16" lengthAdjust="spacing" >18</text>
<text transform="translate(578.15,260.3) scale(1.0,1)" font-size="13.5" text-anchor="start" textLength="16" lengthAdjust="spacing" >15</text>
<text transform="translate(578.15,330.3) scale(1.0,1)" font-size="13.5" text-anchor="start" textLength="16" lengthAdjust="spacing" >16</text>
<text transform="translate(601.48,260.3) scale(1.0,1)" font-size="13.5" text-anchor="start" textLength="16" lengthAdjust="spacing" >13</text>
<text transform="translate(601.48,330.3) scale(1.0,1)" font-size="13.5" text-anchor="start" textLength="16" lengthAdjust="spacing" >14</text>
<text transform="translate(624.81,260.3) scale(1.0,1)" font-size="13.5" text-anchor="start" textLength="16" lengthAdjust="spacing" >11</text>
<text transform="translate(624.81,330.3) scale(1.0,1)" font-size="13.5" text-anchor="start" textLength="16" lengthAdjust="spacing" >12</text>
<text transform="translate(652.89,260.3) scale(1.0,1)" font-size="13.5" text-anchor="start" textLength="6.5" lengthAdjust="spacing" >9</text>
<text transform="translate(648.14,330.3) scale(1.0,1)" font-size="13.5" text-anchor="start" textLength="16" lengthAdjust="spacing" >10</text>
<text transform="translate(676.22,260.3) scale(1.0,1)" font-size="13.5" text-anchor="start" textLength="6.5" lengthAdjust="spacing" >7</text>
<text transform="translate(676.22,330.3) scale(1.0,1)" font-size="13.5" text-anchor="start" textLength="6.5" lengthAdjust="spacing" >8</text>
<text transform="translate(699.55,260.3) scale(1.0,1)" font-size="13.5" text-anchor="start" textLength="6.5" lengthAdjust="spacing" >5</text>
<text transform="translate(699.55,330.3) scale(1.0,1)" font-size="13.5" text-anchor="start" textLength="6.5" lengthAdjust="spacing" >6</text>
<text transform="translate(722.88,260.3) scale(1.0,1)" font-size="13.5" text-anchor="start" textLength="6.5" lengthAdjust="spacing" >3</text>
<text transform="translate(722.88,330.3) scale(1.0,1)" font-size="13.5" text-anchor="start" textLength="6.5" lengthAdjust="spacing" >4</text>
<text transform="translate(746.21,260.3) scale(1.0,1)" font-size="13.5" text-anchor="start" textLength="6.5" lengthAdjust="spacing" >1</text>
<text transform="translate(746.21,330.3) scale(1.0,1)" font-size="13.5" text-anchor="start" textLength="6.5" lengthAdjust="spacing" >2</text>
<ellipse cx="219" cy="369.4" rx="108.6" ry="80.4" fill="#fff" stroke="#000"/>
<rect x="156.5" y="362.5" width="124" height="48" fill="#fff" stroke="#000"/>
<rect x="163.5" y="368.5" width="13" height="13.7" fill="#fff" stroke="#000"/>
<rect x="163" y="390" width="14" height="15" fill="#000"/>
<rect x="186" y="368" width="14" height="14.7" fill="#000"/>
<rect x="186" y="390" width="14" height="15" fill="#000"/>
<rect x="208.5" y="368" width="14.5" height="14.7" fill="#000"/>
<rect x="208.5" y="390" width="14.5" height="15" fill="#000"/>
<rect x="232" y="368" width="15" height="14.7" fill="#000"/>
<rect x="232" y="390" width="15" height="15" fill="#000"/>
<rect x="256" y="368" width="15" height="14.7" fill="#000"/>
<rect x="256" y="390" width="15" height="15" fill="#000"/>
<text transform="translate(144.6,326.3) scale(1.0,1)" font-size="14" text-anchor="start" textLength="146.4" lengthAdjust="spacing" >Detail of JP4 or JP5</text>
<text transform="translate(167.3,353.3) scale(1.0,1)" font-size="13.5" text-anchor="start" >1</text>
<text transform="translate(190.4,353.3) scale(1.0,1)" font-size="13.5" text-anchor="start" >3</text>
<text transform="translate(213.5,353.3) scale(1.0,1)" font-size="13.5" text-anchor="start" >5</text>
<text transform="translate(238.1,353.3) scale(1.0,1)" font-size="13.5" text-anchor="start" >7</text>
<text transform="translate(260.9,353.3) scale(1.0,1)" font-size="13.5" text-anchor="start" >9</text>
<text transform="translate(168.5,427.9) scale(1.0,1)" font-size="13.5" text-anchor="start" >2</text>
<text transform="translate(189.5,427.9) scale(1.0,1)" font-size="13.5" text-anchor="start" >4</text>
<text transform="translate(213.3,427.9) scale(1.0,1)" font-size="13.5" text-anchor="start" >6</text>
<text transform="translate(236.6,427.9) scale(1.0,1)" font-size="13.5" text-anchor="start" >8</text>
<text transform="translate(255.2,427.9) scale(1.0,1)" font-size="13.5" text-anchor="start" textLength="15.6" lengthAdjust="spacing" >10</text>
<path d="M678,413.4 L667.8,396.7 V384.6 Q667.8,382.1 665.3,382.1 H632.9 Q630.4,382.1 630.4,384.6 V398 Q630.4,400.5 632.9,400.5 H663.6 Z" fill="#fff" stroke="#000" stroke-width="2.2" stroke-linejoin="round" shape-rendering="auto"/>
<line x1="668.1" y1="396.7" x2="678" y2="413.4" stroke="#000" stroke-width="3.0" stroke-linecap="round" shape-rendering="auto"/>
<text transform="translate(636.3,395.9) scale(0.82,1)" font-size="15" text-anchor="start" textLength="28.17" lengthAdjust="spacing" >JP1</text>
<path d="M585.3,509.2 L576,492.9 V480.7 Q576,478.2 573.5,478.2 H539.8 Q537.3,478.2 537.3,480.7 V494.2 Q537.3,496.7 539.8,496.7 H571.8 Z" fill="#fff" stroke="#000" stroke-width="2.4" stroke-linejoin="round" shape-rendering="auto"/>
<line x1="576.3" y1="492.9" x2="585.3" y2="509.2" stroke="#000" stroke-width="3.2" stroke-linecap="round" shape-rendering="auto"/>
<text transform="translate(543.3,492.1) scale(0.82,1)" font-size="15" text-anchor="start" textLength="32.2" lengthAdjust="spacing" >JP2</text>
<path d="M515.7,586 L506.1,570 V557.6 Q506.1,555.1 503.6,555.1 H470.6 Q468.1,555.1 468.1,557.6 V571.3 Q468.1,573.8 470.6,573.8 H501.9 Z" fill="#fff" stroke="#000" stroke-width="2.2" stroke-linejoin="round" shape-rendering="auto"/>
<line x1="506.4" y1="570" x2="515.7" y2="586" stroke="#000" stroke-width="3.0" stroke-linecap="round" shape-rendering="auto"/>
<text transform="translate(474.3,568.9) scale(0.82,1)" font-size="15" text-anchor="start" textLength="30.61" lengthAdjust="spacing" >JP3</text>
<path d="M203.6,521.7 L218.4,535.3 H249.2 Q251.7,535.3 251.7,537.8 V550.8 Q251.7,553.3 249.2,553.3 H217.1 Q214.6,553.3 214.6,550.8 V538.9 Z" fill="#fff" stroke="#000" stroke-width="2.2" stroke-linejoin="round" shape-rendering="auto"/>
<line x1="218.4" y1="535" x2="203.6" y2="521.7" stroke="#000" stroke-width="3.0" stroke-linecap="round" shape-rendering="auto"/>
<text transform="translate(219.1,548.6) scale(0.82,1)" font-size="15" text-anchor="start" textLength="30.73" lengthAdjust="spacing" >JP4</text>
<path d="M158.6,563.8 L173.3,575.3 H204.1 Q206.6,575.3 206.6,577.8 V590.9 Q206.6,593.4 204.1,593.4 H172 Q169.5,593.4 169.5,590.9 V578.9 Z" fill="#fff" stroke="#000" stroke-width="2.2" stroke-linejoin="round" shape-rendering="auto"/>
<line x1="173.3" y1="575" x2="158.6" y2="563.8" stroke="#000" stroke-width="3.0" stroke-linecap="round" shape-rendering="auto"/>
<text transform="translate(174.2,589.8) scale(0.82,1)" font-size="15" text-anchor="start" textLength="30.24" lengthAdjust="spacing" >JP5</text>
<path d="M102.8,699.1 L87.5,712.4 H4.7 Q2.2,712.4 2.2,714.9 V728.7 Q2.2,731.2 4.7,731.2 H88.8 Q91.3,731.2 91.3,728.7 V716 Z" fill="#fff" stroke="#000" stroke-width="3" stroke-linejoin="round" shape-rendering="auto"/>
<line x1="91.6" y1="716" x2="102.8" y2="699.1" stroke="#000" stroke-width="3.8" stroke-linecap="round" shape-rendering="auto"/>
<text transform="translate(6,726.7) scale(0.82,1)" font-size="15" text-anchor="start" textLength="99.76" lengthAdjust="spacing" >INTERFACE</text>
<path d="M236.4,790.5 L222.2,804 H137.9 Q135.4,804 135.4,806.5 V820.1 Q135.4,822.6 137.9,822.6 H223.5 Q226,822.6 226,820.1 V807.6 Z" fill="#fff" stroke="#000" stroke-width="2.2" stroke-linejoin="round" shape-rendering="auto"/>
<line x1="226.3" y1="807.6" x2="236.4" y2="790.5" stroke="#000" stroke-width="3.0" stroke-linecap="round" shape-rendering="auto"/>
<text transform="translate(139.2,820.7) scale(0.82,1)" font-size="15" text-anchor="start" textLength="99.51" lengthAdjust="spacing" >DC POWER</text>
<path d="M302.4,843.1 L287.7,856.3 H256.8 Q254.3,856.3 254.3,858.8 V872 Q254.3,874.5 256.8,874.5 H289 Q291.5,874.5 291.5,872 V859.9 Z" fill="#fff" stroke="#000" stroke-width="2.4" stroke-linejoin="round" shape-rendering="auto"/>
<line x1="291.8" y1="859.9" x2="302.4" y2="843.1" stroke="#000" stroke-width="3.2" stroke-linecap="round" shape-rendering="auto"/>
<text transform="translate(261,871) scale(0.82,1)" font-size="15" text-anchor="start" textLength="32.07" lengthAdjust="spacing" >CN1</text>
<text transform="translate(717.3,863.8) scale(0.82,1)" font-size="15" text-anchor="start" textLength="50.98" lengthAdjust="spacing" >70108</text>
</svg>
</body></html>
